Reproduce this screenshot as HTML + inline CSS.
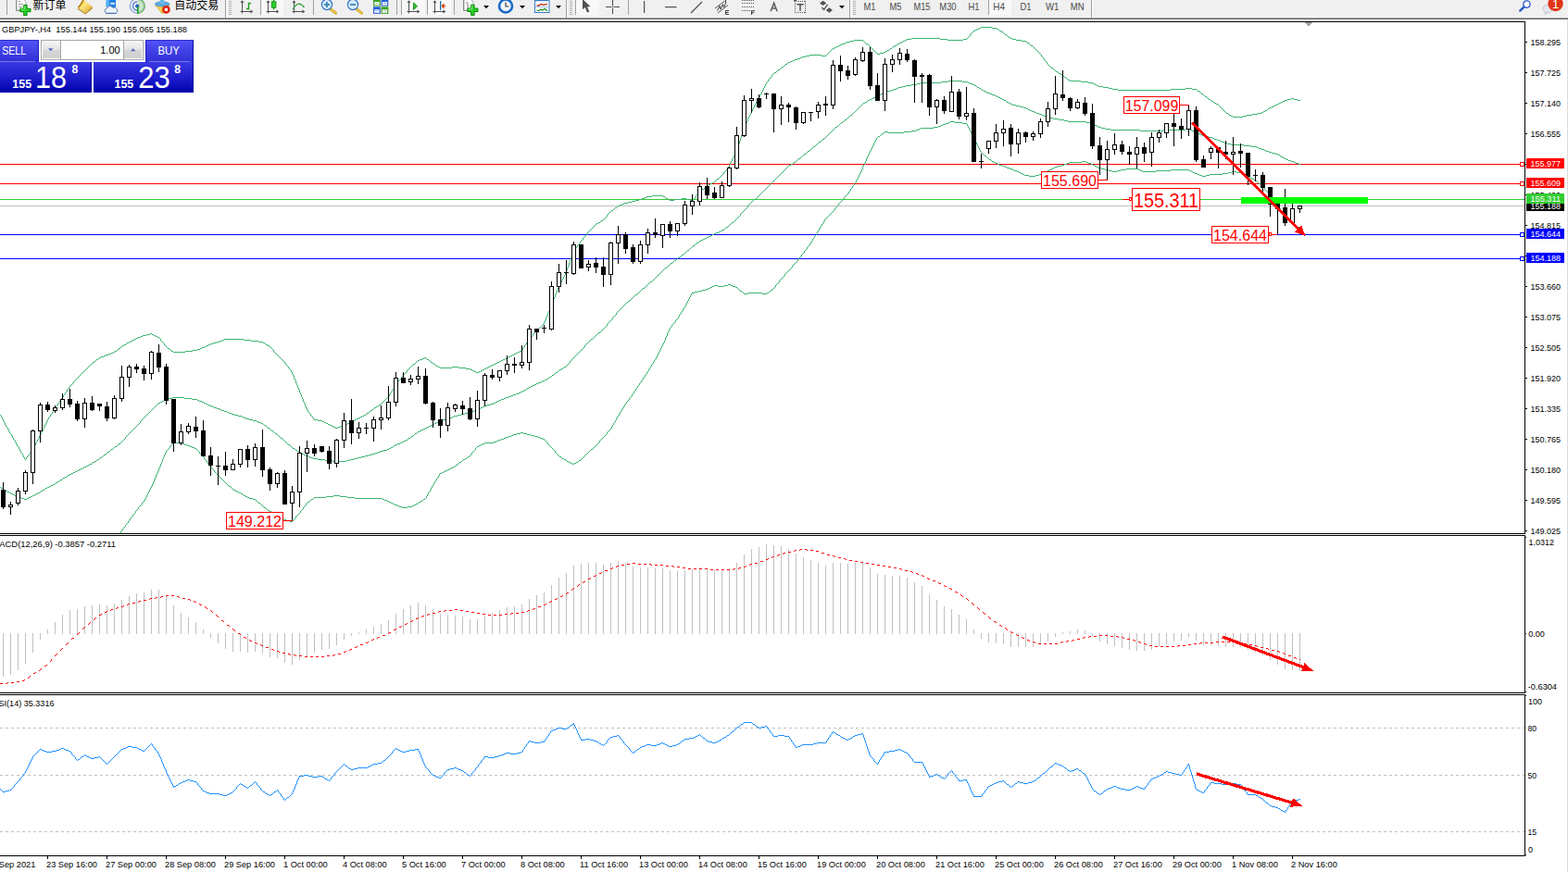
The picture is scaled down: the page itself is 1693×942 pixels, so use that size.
<!DOCTYPE html>
<html><head><meta charset="utf-8"><title>GBPJPY H4</title>
<style>
html,body{margin:0;padding:0;background:#fff;}
body{width:1693px;height:942px;overflow:hidden;position:relative;font-family:"Liberation Sans",sans-serif;}
svg{position:absolute;left:0;top:0;display:block}
svg text{font-family:"Liberation Sans",sans-serif;}

</style></head><body>
<svg width="1693" height="942" viewBox="0 0 1693 942" shape-rendering="crispEdges">
<defs>
<clipPath id="cm"><rect x="0" y="24" width="1646" height="552"/></clipPath>
<clipPath id="c2"><rect x="0" y="579" width="1646" height="169"/></clipPath>
<clipPath id="c3"><rect x="0" y="751" width="1646" height="173"/></clipPath>
</defs>
<rect x="0" y="0" width="1693" height="942" fill="#fff"/>
<g clip-path="url(#cm)"><rect x="0" y="177" width="1646" height="1" fill="#ff0000"/><rect x="0" y="198" width="1646" height="1" fill="#ff0000"/><rect x="0" y="215" width="1646" height="1" fill="#32cd32"/><rect x="0" y="222" width="1646" height="1" fill="#c0c0c0"/><rect x="0" y="253" width="1646" height="1" fill="#0000ff"/><rect x="0" y="279" width="1646" height="1" fill="#0000ff"/><path fill="#3cb371" d="M0 448h1v1h-1zM1 449h1v2h-1zM2 451h1v2h-1zM3 453h1v2h-1zM4 455h1v2h-1zM5 457h1v2h-1zM6 459h1v2h-1zM7 461h1v1h-1zM8 462h1v2h-1zM9 464h1v2h-1zM10 466h1v2h-1zM11 468h1v1h-1zM12 469h1v2h-1zM13 471h1v2h-1zM14 473h1v2h-1zM15 475h1v1h-1zM16 476h1v2h-1zM17 478h1v2h-1zM18 480h1v2h-1zM19 482h1v1h-1zM20 483h1v2h-1zM21 485h1v2h-1zM22 487h1v2h-1zM23 489h1v1h-1zM24 490h1v2h-1zM25 492h1v2h-1zM26 494h1v2h-1zM27 496h1v1h-1zM28 494h1v2h-1zM29 493h1v1h-1zM30 492h1v1h-1zM31 490h1v2h-1zM32 489h1v1h-1zM33 488h1v1h-1zM34 486h1v2h-1zM35 485h1v1h-1zM36 483h1v2h-1zM37 481h1v2h-1zM38 479h1v2h-1zM39 477h1v2h-1zM40 475h1v2h-1zM41 473h1v2h-1zM42 471h1v2h-1zM43 469h1v2h-1zM44 467h1v2h-1zM45 465h1v2h-1zM46 463h1v2h-1zM47 461h1v2h-1zM48 459h1v2h-1zM49 457h1v2h-1zM50 455h1v2h-1zM51 453h1v2h-1zM52 451h1v2h-1zM53 450h1v1h-1zM54 448h1v2h-1zM55 447h1v1h-1zM56 445h1v2h-1zM57 444h1v1h-1zM58 442h1v2h-1zM59 441h1v1h-1zM60 439h1v2h-1zM61 438h1v1h-1zM62 436h1v2h-1zM63 435h1v1h-1zM64 433h1v2h-1zM65 432h1v1h-1zM66 430h1v2h-1zM67 429h1v1h-1zM68 427h1v2h-1zM69 426h1v1h-1zM70 424h1v2h-1zM71 423h1v1h-1zM72 421h1v2h-1zM73 420h1v1h-1zM74 418h1v2h-1zM75 417h1v1h-1zM76 416h1v1h-1zM77 415h1v1h-1zM78 414h1v1h-1zM79 412h1v2h-1zM80 411h1v1h-1zM81 410h1v1h-1zM82 409h1v1h-1zM83 408h1v1h-1zM84 407h1v1h-1zM85 406h1v1h-1zM86 405h1v1h-1zM87 404h1v1h-1zM88 403h1v1h-1zM89 402h1v1h-1zM90 401h1v1h-1zM91 400h1v1h-1zM92 399h1v1h-1zM93 398h1v1h-1zM94 397h1v1h-1zM95 396h1v1h-1zM96 395h1v1h-1zM97 394h1v1h-1zM98 393h1v1h-1zM99 392h1v1h-1zM100 391h2v1h-2zM102 390h1v1h-1zM103 389h1v1h-1zM104 388h2v1h-2zM106 387h1v1h-1zM107 386h2v1h-2zM109 385h3v1h-3zM112 384h2v1h-2zM114 383h3v1h-3zM117 382h3v1h-3zM120 381h2v1h-2zM122 380h2v1h-2zM124 379h2v1h-2zM126 378h1v1h-1zM127 377h1v1h-1zM128 376h2v1h-2zM130 375h1v1h-1zM131 374h1v1h-1zM132 373h2v1h-2zM134 372h2v1h-2zM136 371h1v1h-1zM137 370h2v1h-2zM139 369h2v1h-2zM141 368h2v1h-2zM143 367h2v1h-2zM145 366h2v1h-2zM147 365h2v1h-2zM149 364h3v1h-3zM152 363h2v1h-2zM154 362h4v1h-4zM158 361h4v1h-4zM162 360h2v1h-2zM164 361h2v1h-2zM166 362h2v1h-2zM168 363h2v1h-2zM170 364h2v1h-2zM172 365h1v1h-1zM173 366h1v2h-1zM174 368h1v1h-1zM175 369h1v1h-1zM176 370h1v1h-1zM177 371h1v2h-1zM178 373h1v1h-1zM179 374h1v1h-1zM180 375h1v1h-1zM181 376h2v1h-2zM183 377h1v1h-1zM184 378h1v1h-1zM185 379h2v1h-2zM187 380h13v1h-13zM200 379h8v1h-8zM208 378h5v1h-5zM213 377h3v1h-3zM216 376h2v1h-2zM218 375h3v1h-3zM221 374h2v1h-2zM223 373h2v1h-2zM225 372h2v1h-2zM227 371h3v1h-3zM230 370h4v1h-4zM234 369h3v1h-3zM237 368h3v1h-3zM240 367h2v1h-2zM242 366h21v1h-21zM263 367h8v1h-8zM271 368h8v1h-8zM279 369h5v1h-5zM284 370h2v1h-2zM286 371h1v1h-1zM287 372h2v1h-2zM289 373h2v1h-2zM291 374h1v1h-1zM292 375h1v1h-1zM293 376h1v1h-1zM294 377h1v1h-1zM295 378h1v2h-1zM296 380h1v1h-1zM297 381h1v1h-1zM298 382h1v1h-1zM299 383h1v1h-1zM300 384h1v1h-1zM301 385h1v1h-1zM302 386h1v1h-1zM303 387h1v1h-1zM304 388h1v1h-1zM305 389h1v1h-1zM306 390h1v1h-1zM307 391h1v1h-1zM308 392h1v2h-1zM309 394h1v1h-1zM310 395h1v1h-1zM311 396h1v2h-1zM312 398h1v1h-1zM313 399h1v1h-1zM314 400h1v2h-1zM315 402h1v2h-1zM316 404h1v2h-1zM317 406h1v3h-1zM318 409h1v2h-1zM319 411h1v3h-1zM320 414h1v2h-1zM321 416h1v3h-1zM322 419h1v2h-1zM323 421h1v3h-1zM324 424h1v2h-1zM325 426h1v3h-1zM326 429h1v2h-1zM327 431h1v3h-1zM328 434h1v2h-1zM329 436h1v3h-1zM330 439h1v2h-1zM331 441h1v2h-1zM332 443h1v2h-1zM333 445h1v1h-1zM334 446h1v1h-1zM335 447h1v2h-1zM336 449h1v1h-1zM337 450h1v1h-1zM338 451h1v2h-1zM339 453h4v1h-4zM343 454h5v1h-5zM348 455h2v1h-2zM350 456h2v1h-2zM352 457h2v1h-2zM354 458h2v1h-2zM356 459h2v1h-2zM358 460h2v1h-2zM360 461h2v1h-2zM362 462h3v1h-3zM365 461h3v1h-3zM368 460h2v1h-2zM370 459h3v1h-3zM373 458h2v1h-2zM375 457h2v1h-2zM377 456h2v1h-2zM379 455h2v1h-2zM381 454h2v1h-2zM383 453h2v1h-2zM385 452h2v1h-2zM387 451h2v1h-2zM389 450h2v1h-2zM391 449h2v1h-2zM393 448h2v1h-2zM395 447h1v1h-1zM396 446h2v1h-2zM398 445h1v1h-1zM399 444h1v1h-1zM400 443h2v1h-2zM402 442h1v1h-1zM403 441h1v1h-1zM404 440h2v1h-2zM406 439h2v1h-2zM408 438h1v1h-1zM409 437h2v1h-2zM411 436h1v1h-1zM412 435h1v1h-1zM413 434h1v1h-1zM414 433h1v1h-1zM415 432h1v1h-1zM416 431h1v1h-1zM417 430h1v1h-1zM418 429h1v1h-1zM419 428h1v1h-1zM420 426h1v2h-1zM421 424h1v2h-1zM422 423h1v1h-1zM423 421h1v2h-1zM424 420h1v1h-1zM425 418h1v2h-1zM426 416h1v2h-1zM427 415h1v1h-1zM428 414h1v1h-1zM429 412h1v2h-1zM430 411h1v1h-1zM431 410h1v1h-1zM432 409h1v1h-1zM433 407h1v2h-1zM434 406h1v1h-1zM435 405h1v1h-1zM436 404h1v1h-1zM437 403h1v1h-1zM438 402h1v1h-1zM439 400h1v2h-1zM440 399h1v1h-1zM441 398h1v1h-1zM442 397h1v1h-1zM443 396h1v1h-1zM444 395h1v1h-1zM445 394h1v1h-1zM446 393h2v1h-2zM448 392h1v1h-1zM449 391h1v1h-1zM450 390h1v1h-1zM451 389h2v1h-2zM453 388h3v1h-3zM456 387h2v1h-2zM458 386h2v1h-2zM460 387h1v1h-1zM461 388h2v1h-2zM463 389h1v1h-1zM464 390h1v1h-1zM465 391h2v1h-2zM467 392h1v1h-1zM468 393h2v1h-2zM470 394h1v1h-1zM471 395h2v1h-2zM473 396h2v1h-2zM475 397h13v1h-13zM488 396h7v1h-7zM495 397h8v1h-8zM503 398h5v1h-5zM508 399h2v1h-2zM510 400h2v1h-2zM512 401h2v1h-2zM514 402h3v1h-3zM517 401h2v1h-2zM519 400h2v1h-2zM521 399h2v1h-2zM523 398h2v1h-2zM525 397h2v1h-2zM527 396h2v1h-2zM529 395h2v1h-2zM531 394h2v1h-2zM533 393h2v1h-2zM535 392h2v1h-2zM537 391h2v1h-2zM539 390h2v1h-2zM541 389h2v1h-2zM543 388h2v1h-2zM545 387h2v1h-2zM547 386h2v1h-2zM549 385h2v1h-2zM551 384h2v1h-2zM553 383h2v1h-2zM555 382h2v1h-2zM557 381h2v1h-2zM559 380h2v1h-2zM561 379h2v1h-2zM563 378h1v1h-1zM564 376h1v2h-1zM565 375h1v1h-1zM566 373h1v2h-1zM567 372h1v1h-1zM568 370h1v2h-1zM569 369h1v1h-1zM570 367h1v2h-1zM571 366h1v1h-1zM572 365h1v1h-1zM573 364h1v1h-1zM574 363h1v1h-1zM575 361h1v2h-1zM576 360h1v1h-1zM577 359h1v1h-1zM578 358h1v1h-1zM579 357h1v1h-1zM580 356h1v1h-1zM581 355h1v1h-1zM582 354h1v1h-1zM583 353h1v1h-1zM584 352h1v1h-1zM585 351h1v1h-1zM586 350h1v1h-1zM587 348h1v2h-1zM588 346h1v2h-1zM589 343h1v3h-1zM590 341h1v2h-1zM591 338h1v3h-1zM592 336h1v2h-1zM593 333h1v3h-1zM594 331h1v2h-1zM595 328h1v3h-1zM596 326h1v2h-1zM597 323h1v3h-1zM598 321h1v2h-1zM599 318h1v3h-1zM600 316h1v2h-1zM601 313h1v3h-1zM602 311h1v2h-1zM603 309h1v2h-1zM604 307h1v2h-1zM605 305h1v2h-1zM606 303h1v2h-1zM607 301h1v2h-1zM608 299h1v2h-1zM609 297h1v2h-1zM610 295h1v2h-1zM611 292h1v3h-1zM612 289h1v3h-1zM613 287h1v2h-1zM614 284h1v3h-1zM615 281h1v3h-1zM616 278h1v3h-1zM617 276h1v2h-1zM618 273h1v3h-1zM619 271h1v2h-1zM620 269h1v2h-1zM621 268h1v1h-1zM622 267h1v1h-1zM623 265h1v2h-1zM624 264h1v1h-1zM625 263h1v1h-1zM626 261h1v2h-1zM627 260h1v1h-1zM628 259h1v1h-1zM629 257h1v2h-1zM630 256h1v1h-1zM631 255h1v1h-1zM632 254h1v1h-1zM633 252h1v2h-1zM634 251h1v1h-1zM635 250h1v1h-1zM636 249h1v1h-1zM637 248h1v1h-1zM638 247h1v1h-1zM639 246h1v1h-1zM640 245h1v1h-1zM641 244h1v1h-1zM642 243h1v1h-1zM643 242h1v1h-1zM644 241h2v1h-2zM646 240h2v1h-2zM648 239h1v1h-1zM649 238h2v1h-2zM651 237h1v1h-1zM652 236h1v1h-1zM653 235h1v1h-1zM654 234h1v1h-1zM655 232h1v2h-1zM656 231h1v1h-1zM657 230h1v1h-1zM658 229h1v1h-1zM659 228h1v1h-1zM660 227h2v1h-2zM662 226h1v1h-1zM663 225h1v1h-1zM664 224h2v1h-2zM666 223h1v1h-1zM667 222h2v1h-2zM669 221h3v1h-3zM672 220h2v1h-2zM674 219h4v1h-4zM678 218h4v1h-4zM682 217h4v1h-4zM686 216h4v1h-4zM690 215h3v1h-3zM693 214h3v1h-3zM696 213h2v1h-2zM698 212h6v1h-6zM704 211h12v1h-12zM716 212h2v1h-2zM718 213h1v1h-1zM719 214h2v1h-2zM721 215h2v1h-2zM723 216h5v1h-5zM728 215h8v1h-8zM736 214h5v1h-5zM741 215h4v1h-4zM745 216h3v1h-3zM748 215h1v1h-1zM749 214h1v1h-1zM750 213h1v1h-1zM751 211h1v2h-1zM752 210h1v1h-1zM753 209h1v1h-1zM754 208h1v1h-1zM755 207h1v1h-1zM756 206h1v1h-1zM757 205h1v1h-1zM758 204h2v1h-2zM760 203h1v1h-1zM761 202h1v1h-1zM762 201h1v1h-1zM763 200h2v1h-2zM765 199h2v1h-2zM767 198h2v1h-2zM769 197h2v1h-2zM771 196h1v1h-1zM772 195h1v1h-1zM773 194h1v1h-1zM774 193h2v1h-2zM776 192h1v1h-1zM777 191h1v1h-1zM778 190h1v1h-1zM779 189h1v1h-1zM780 188h1v1h-1zM781 186h1v2h-1zM782 185h1v1h-1zM783 184h1v1h-1zM784 183h1v1h-1zM785 181h1v2h-1zM786 180h1v1h-1zM787 178h1v2h-1zM788 176h1v2h-1zM789 174h1v2h-1zM790 172h1v2h-1zM791 170h1v2h-1zM792 168h1v2h-1zM793 166h1v2h-1zM794 164h1v2h-1zM795 161h1v3h-1zM796 158h1v3h-1zM797 155h1v3h-1zM798 152h1v3h-1zM799 149h1v3h-1zM800 146h1v3h-1zM801 143h1v3h-1zM802 140h1v3h-1zM803 137h1v3h-1zM804 135h1v2h-1zM805 133h1v2h-1zM806 131h1v2h-1zM807 128h1v3h-1zM808 126h1v2h-1zM809 124h1v2h-1zM810 122h1v2h-1zM811 120h1v2h-1zM812 118h1v2h-1zM813 116h1v2h-1zM814 114h1v2h-1zM815 112h1v2h-1zM816 110h1v2h-1zM817 108h1v2h-1zM818 106h1v2h-1zM819 105h1v1h-1zM820 103h1v2h-1zM821 101h1v2h-1zM822 99h1v2h-1zM823 97h1v2h-1zM824 95h1v2h-1zM825 93h1v2h-1zM826 91h1v2h-1zM827 89h1v2h-1zM828 88h1v1h-1zM829 86h1v2h-1zM830 85h1v1h-1zM831 84h1v1h-1zM832 83h1v1h-1zM833 81h1v2h-1zM834 80h1v1h-1zM835 79h1v1h-1zM836 78h2v1h-2zM838 77h1v1h-1zM839 76h1v1h-1zM840 75h2v1h-2zM842 74h1v1h-1zM843 73h1v1h-1zM844 72h2v1h-2zM846 71h1v1h-1zM847 70h1v1h-1zM848 69h2v1h-2zM850 68h1v1h-1zM851 67h2v1h-2zM853 66h3v1h-3zM856 65h2v1h-2zM858 64h3v1h-3zM861 63h3v1h-3zM864 62h2v1h-2zM866 61h4v1h-4zM870 60h4v1h-4zM874 59h13v1h-13zM887 60h5v1h-5zM892 59h1v1h-1zM893 58h1v1h-1zM894 57h1v1h-1zM895 56h1v1h-1zM896 55h1v1h-1zM897 54h1v1h-1zM898 53h1v1h-1zM899 52h2v1h-2zM901 51h2v1h-2zM903 50h2v1h-2zM905 49h2v1h-2zM907 48h2v1h-2zM909 47h3v1h-3zM912 46h2v1h-2zM914 45h4v1h-4zM918 44h4v1h-4zM922 43h10v1h-10zM932 44h1v1h-1zM933 45h1v1h-1zM934 46h1v1h-1zM935 47h2v1h-2zM937 48h1v1h-1zM938 49h1v1h-1zM939 50h1v1h-1zM940 51h1v1h-1zM941 52h1v1h-1zM942 53h1v1h-1zM943 54h1v1h-1zM944 55h1v1h-1zM945 56h1v1h-1zM946 57h1v1h-1zM947 58h3v1h-3zM950 57h4v1h-4zM954 56h2v1h-2zM956 55h2v1h-2zM958 54h2v1h-2zM960 53h1v1h-1zM961 52h2v1h-2zM963 51h1v1h-1zM964 50h2v1h-2zM966 49h2v1h-2zM968 48h1v1h-1zM969 47h2v1h-2zM971 46h2v1h-2zM973 45h2v1h-2zM975 44h2v1h-2zM977 43h2v1h-2zM979 42h5v1h-5zM984 41h31v1h-31zM1015 42h8v1h-8zM1023 43h17v1h-17zM1040 42h4v1h-4zM1044 41h1v1h-1zM1045 40h1v1h-1zM1046 39h1v1h-1zM1047 37h1v2h-1zM1048 36h1v1h-1zM1049 35h1v1h-1zM1050 34h1v1h-1zM1051 33h2v1h-2zM1053 32h2v1h-2zM1055 31h2v1h-2zM1057 30h2v1h-2zM1059 29h12v1h-12zM1071 30h5v1h-5zM1076 31h2v1h-2zM1078 32h1v1h-1zM1079 33h2v1h-2zM1081 34h2v1h-2zM1083 35h1v1h-1zM1084 36h1v1h-1zM1085 37h2v1h-2zM1087 38h1v1h-1zM1088 39h1v1h-1zM1089 40h2v1h-2zM1091 41h2v1h-2zM1093 42h4v1h-4zM1097 43h6v1h-6zM1103 44h5v1h-5zM1108 45h1v1h-1zM1109 46h2v1h-2zM1111 47h1v1h-1zM1112 48h1v1h-1zM1113 49h2v1h-2zM1115 50h1v1h-1zM1116 51h1v1h-1zM1117 52h1v1h-1zM1118 53h1v1h-1zM1119 54h1v1h-1zM1120 55h1v1h-1zM1121 56h1v1h-1zM1122 57h1v1h-1zM1123 58h1v1h-1zM1124 59h1v2h-1zM1125 61h1v1h-1zM1126 62h1v1h-1zM1127 63h1v2h-1zM1128 65h1v1h-1zM1129 66h1v1h-1zM1130 67h1v2h-1zM1131 69h1v1h-1zM1132 70h1v1h-1zM1133 71h1v1h-1zM1134 72h1v1h-1zM1135 73h2v1h-2zM1137 74h1v1h-1zM1138 75h1v1h-1zM1139 76h1v1h-1zM1140 77h2v1h-2zM1142 78h1v1h-1zM1143 79h2v1h-2zM1145 80h2v1h-2zM1147 81h1v1h-1zM1148 82h1v1h-1zM1149 83h2v1h-2zM1151 84h1v1h-1zM1152 85h1v1h-1zM1153 86h2v1h-2zM1155 87h12v1h-12zM1167 88h8v1h-8zM1175 89h5v1h-5zM1180 90h2v1h-2zM1182 91h2v1h-2zM1184 92h2v1h-2zM1186 93h5v1h-5zM1191 94h6v1h-6zM1197 95h4v1h-4zM1201 96h6v1h-6zM1207 97h57v1h-57zM1264 96h16v1h-16zM1280 95h7v1h-7zM1287 96h5v1h-5zM1292 97h1v1h-1zM1293 98h2v1h-2zM1295 99h1v1h-1zM1296 100h1v1h-1zM1297 101h2v1h-2zM1299 102h1v1h-1zM1300 103h1v1h-1zM1301 104h2v1h-2zM1303 105h1v1h-1zM1304 106h1v1h-1zM1305 107h2v1h-2zM1307 108h1v1h-1zM1308 109h2v1h-2zM1310 110h1v1h-1zM1311 111h2v1h-2zM1313 112h2v1h-2zM1315 113h1v1h-1zM1316 114h1v1h-1zM1317 115h1v1h-1zM1318 116h1v1h-1zM1319 117h1v1h-1zM1320 118h1v1h-1zM1321 119h1v1h-1zM1322 120h1v1h-1zM1323 121h1v1h-1zM1324 122h2v1h-2zM1326 123h1v1h-1zM1327 124h2v1h-2zM1329 125h2v1h-2zM1331 126h11v1h-11zM1342 125h4v1h-4zM1346 124h6v1h-6zM1352 123h6v1h-6zM1358 122h4v1h-4zM1362 121h2v1h-2zM1364 120h2v1h-2zM1366 119h2v1h-2zM1368 118h1v1h-1zM1369 117h2v1h-2zM1371 116h2v1h-2zM1373 115h2v1h-2zM1375 114h2v1h-2zM1377 113h2v1h-2zM1379 112h2v1h-2zM1381 111h2v1h-2zM1383 110h2v1h-2zM1385 109h2v1h-2zM1387 108h3v1h-3zM1390 107h4v1h-4zM1394 106h3v1h-3zM1397 107h4v1h-4zM1401 108h3v1h-3z"/><path fill="#3cb371" d="M0 526h1v1h-1zM1 527h2v1h-2zM3 528h1v1h-1zM4 529h2v1h-2zM6 530h2v1h-2zM8 531h2v1h-2zM10 532h2v1h-2zM12 533h2v1h-2zM14 534h2v1h-2zM16 535h2v1h-2zM18 536h3v1h-3zM21 537h2v1h-2zM23 538h3v1h-3zM26 539h3v1h-3zM29 538h2v1h-2zM31 537h2v1h-2zM33 536h2v1h-2zM35 535h2v1h-2zM37 534h2v1h-2zM39 533h2v1h-2zM41 532h2v1h-2zM43 531h1v1h-1zM44 530h2v1h-2zM46 529h2v1h-2zM48 528h1v1h-1zM49 527h2v1h-2zM51 526h2v1h-2zM53 525h2v1h-2zM55 524h2v1h-2zM57 523h2v1h-2zM59 522h1v1h-1zM60 521h2v1h-2zM62 520h2v1h-2zM64 519h1v1h-1zM65 518h2v1h-2zM67 517h1v1h-1zM68 516h2v1h-2zM70 515h2v1h-2zM72 514h1v1h-1zM73 513h2v1h-2zM75 512h2v1h-2zM77 511h2v1h-2zM79 510h2v1h-2zM81 509h2v1h-2zM83 508h2v1h-2zM85 507h2v1h-2zM87 506h2v1h-2zM89 505h2v1h-2zM91 504h2v1h-2zM93 503h2v1h-2zM95 502h2v1h-2zM97 501h2v1h-2zM99 500h1v1h-1zM100 499h2v1h-2zM102 498h2v1h-2zM104 497h1v1h-1zM105 496h2v1h-2zM107 495h1v1h-1zM108 494h2v1h-2zM110 493h1v1h-1zM111 492h1v1h-1zM112 491h2v1h-2zM114 490h1v1h-1zM115 489h1v1h-1zM116 488h2v1h-2zM118 487h1v1h-1zM119 486h1v1h-1zM120 485h2v1h-2zM122 484h1v1h-1zM123 483h1v1h-1zM124 482h2v1h-2zM126 481h1v1h-1zM127 480h1v1h-1zM128 479h2v1h-2zM130 478h1v1h-1zM131 477h1v1h-1zM132 476h1v1h-1zM133 475h1v1h-1zM134 474h1v1h-1zM135 472h1v2h-1zM136 471h1v1h-1zM137 470h1v1h-1zM138 469h1v1h-1zM139 468h1v1h-1zM140 467h1v1h-1zM141 466h1v1h-1zM142 465h1v1h-1zM143 464h1v1h-1zM144 463h1v1h-1zM145 462h1v1h-1zM146 461h1v1h-1zM147 460h1v1h-1zM148 459h1v1h-1zM149 458h1v1h-1zM150 457h1v1h-1zM151 455h1v2h-1zM152 454h1v1h-1zM153 453h1v1h-1zM154 452h1v1h-1zM155 451h1v1h-1zM156 450h1v1h-1zM157 449h1v1h-1zM158 448h1v1h-1zM159 447h1v1h-1zM160 446h1v1h-1zM161 445h1v1h-1zM162 444h1v1h-1zM163 443h1v1h-1zM164 442h1v1h-1zM165 441h1v1h-1zM166 440h1v1h-1zM167 439h1v1h-1zM168 438h1v1h-1zM169 437h1v1h-1zM170 436h1v1h-1zM171 435h2v1h-2zM173 434h2v1h-2zM175 433h2v1h-2zM177 432h2v1h-2zM179 431h3v1h-3zM182 430h4v1h-4zM186 429h13v1h-13zM199 430h8v1h-8zM207 431h6v1h-6zM213 432h2v1h-2zM215 433h3v1h-3zM218 434h2v1h-2zM220 435h2v1h-2zM222 436h2v1h-2zM224 437h2v1h-2zM226 438h3v1h-3zM229 439h2v1h-2zM231 440h3v1h-3zM234 441h3v1h-3zM237 442h2v1h-2zM239 443h3v1h-3zM242 444h3v1h-3zM245 445h2v1h-2zM247 446h3v1h-3zM250 447h3v1h-3zM253 448h4v1h-4zM257 449h4v1h-4zM261 450h2v1h-2zM263 451h3v1h-3zM266 452h3v1h-3zM269 453h4v1h-4zM273 454h4v1h-4zM277 455h2v1h-2zM279 456h3v1h-3zM282 457h2v1h-2zM284 458h1v1h-1zM285 459h2v1h-2zM287 460h1v1h-1zM288 461h1v1h-1zM289 462h2v1h-2zM291 463h1v1h-1zM292 464h1v1h-1zM293 465h2v1h-2zM295 466h1v1h-1zM296 467h1v1h-1zM297 468h2v1h-2zM299 469h1v1h-1zM300 470h1v1h-1zM301 471h1v1h-1zM302 472h1v1h-1zM303 473h2v1h-2zM305 474h1v1h-1zM306 475h1v1h-1zM307 476h1v1h-1zM308 477h1v1h-1zM309 478h1v1h-1zM310 479h1v1h-1zM311 480h2v1h-2zM313 481h1v1h-1zM314 482h1v1h-1zM315 483h1v1h-1zM316 484h2v1h-2zM318 485h1v1h-1zM319 486h2v1h-2zM321 487h2v1h-2zM323 488h1v1h-1zM324 489h2v1h-2zM326 490h2v1h-2zM328 491h2v1h-2zM330 492h3v1h-3zM333 493h2v1h-2zM335 494h3v1h-3zM338 495h5v1h-5zM343 496h8v1h-8zM351 497h8v1h-8zM359 498h15v1h-15zM374 497h4v1h-4zM378 496h4v1h-4zM382 495h4v1h-4zM386 494h4v1h-4zM390 493h4v1h-4zM394 492h4v1h-4zM398 491h4v1h-4zM402 490h3v1h-3zM405 489h3v1h-3zM408 488h2v1h-2zM410 487h4v1h-4zM414 486h4v1h-4zM418 485h2v1h-2zM420 484h2v1h-2zM422 483h2v1h-2zM424 482h1v1h-1zM425 481h2v1h-2zM427 480h2v1h-2zM429 479h3v1h-3zM432 478h2v1h-2zM434 477h2v1h-2zM436 476h2v1h-2zM438 475h2v1h-2zM440 474h1v1h-1zM441 473h2v1h-2zM443 472h1v1h-1zM444 471h2v1h-2zM446 470h1v1h-1zM447 469h1v1h-1zM448 468h2v1h-2zM450 467h1v1h-1zM451 466h2v1h-2zM453 465h2v1h-2zM455 464h2v1h-2zM457 463h2v1h-2zM459 462h2v1h-2zM461 461h2v1h-2zM463 460h2v1h-2zM465 459h2v1h-2zM467 458h2v1h-2zM469 457h2v1h-2zM471 456h2v1h-2zM473 455h2v1h-2zM475 454h3v1h-3zM478 453h4v1h-4zM482 452h3v1h-3zM485 451h3v1h-3zM488 450h2v1h-2zM490 449h4v1h-4zM494 448h4v1h-4zM498 447h4v1h-4zM502 446h4v1h-4zM506 445h3v1h-3zM509 444h3v1h-3zM512 443h2v1h-2zM514 442h3v1h-3zM517 441h2v1h-2zM519 440h2v1h-2zM521 439h2v1h-2zM523 438h3v1h-3zM526 437h4v1h-4zM530 436h3v1h-3zM533 435h2v1h-2zM535 434h2v1h-2zM537 433h2v1h-2zM539 432h2v1h-2zM541 431h3v1h-3zM544 430h2v1h-2zM546 429h3v1h-3zM549 428h3v1h-3zM552 427h2v1h-2zM554 426h3v1h-3zM557 425h3v1h-3zM560 424h2v1h-2zM562 423h2v1h-2zM564 422h2v1h-2zM566 421h2v1h-2zM568 420h1v1h-1zM569 419h2v1h-2zM571 418h2v1h-2zM573 417h2v1h-2zM575 416h2v1h-2zM577 415h2v1h-2zM579 414h2v1h-2zM581 413h3v1h-3zM584 412h2v1h-2zM586 411h2v1h-2zM588 410h2v1h-2zM590 409h2v1h-2zM592 408h1v1h-1zM593 407h2v1h-2zM595 406h1v1h-1zM596 405h2v1h-2zM598 404h1v1h-1zM599 403h1v1h-1zM600 402h2v1h-2zM602 401h1v1h-1zM603 400h1v1h-1zM604 399h2v1h-2zM606 398h2v1h-2zM608 397h1v1h-1zM609 396h2v1h-2zM611 395h1v1h-1zM612 394h1v1h-1zM613 393h1v1h-1zM614 392h1v1h-1zM615 390h1v2h-1zM616 389h1v1h-1zM617 388h1v1h-1zM618 387h1v1h-1zM619 386h1v1h-1zM620 385h1v1h-1zM621 384h1v1h-1zM622 383h1v1h-1zM623 382h1v1h-1zM624 381h1v1h-1zM625 380h1v1h-1zM626 379h1v1h-1zM627 378h1v1h-1zM628 377h1v1h-1zM629 376h1v1h-1zM630 375h1v1h-1zM631 373h1v2h-1zM632 372h1v1h-1zM633 371h1v1h-1zM634 370h1v1h-1zM635 369h1v1h-1zM636 368h1v1h-1zM637 367h1v1h-1zM638 366h2v1h-2zM640 365h1v1h-1zM641 364h1v1h-1zM642 363h1v1h-1zM643 362h1v1h-1zM644 361h1v1h-1zM645 360h1v1h-1zM646 359h2v1h-2zM648 358h1v1h-1zM649 357h1v1h-1zM650 356h1v1h-1zM651 355h1v1h-1zM652 354h1v1h-1zM653 353h1v1h-1zM654 352h1v1h-1zM655 350h1v2h-1zM656 349h1v1h-1zM657 348h1v1h-1zM658 347h1v1h-1zM659 346h1v1h-1zM660 345h1v1h-1zM661 343h1v2h-1zM662 342h1v1h-1zM663 341h1v1h-1zM664 340h1v1h-1zM665 338h1v2h-1zM666 337h1v1h-1zM667 336h1v1h-1zM668 335h1v1h-1zM669 334h1v1h-1zM670 333h1v1h-1zM671 332h1v1h-1zM672 331h1v1h-1zM673 330h1v1h-1zM674 329h1v1h-1zM675 328h1v1h-1zM676 327h1v1h-1zM677 326h1v1h-1zM678 325h2v1h-2zM680 324h1v1h-1zM681 323h1v1h-1zM682 322h1v1h-1zM683 321h1v1h-1zM684 320h1v1h-1zM685 319h1v1h-1zM686 318h2v1h-2zM688 317h1v1h-1zM689 316h1v1h-1zM690 315h1v1h-1zM691 314h1v1h-1zM692 313h1v1h-1zM693 312h1v1h-1zM694 311h2v1h-2zM696 310h1v1h-1zM697 309h1v1h-1zM698 308h1v1h-1zM699 307h1v1h-1zM700 306h1v1h-1zM701 305h1v1h-1zM702 304h2v1h-2zM704 303h1v1h-1zM705 302h1v1h-1zM706 301h1v1h-1zM707 300h1v1h-1zM708 299h1v1h-1zM709 298h1v1h-1zM710 297h1v1h-1zM711 296h1v1h-1zM712 295h1v1h-1zM713 294h1v1h-1zM714 293h1v1h-1zM715 292h1v1h-1zM716 291h1v1h-1zM717 290h1v1h-1zM718 289h2v1h-2zM720 288h1v1h-1zM721 287h1v1h-1zM722 286h1v1h-1zM723 285h1v1h-1zM724 284h2v1h-2zM726 283h1v1h-1zM727 282h1v1h-1zM728 281h2v1h-2zM730 280h1v1h-1zM731 279h1v1h-1zM732 278h2v1h-2zM734 277h1v1h-1zM735 276h1v1h-1zM736 275h2v1h-2zM738 274h1v1h-1zM739 273h1v1h-1zM740 272h1v1h-1zM741 271h1v1h-1zM742 270h2v1h-2zM744 269h1v1h-1zM745 268h1v1h-1zM746 267h1v1h-1zM747 266h1v1h-1zM748 265h2v1h-2zM750 264h1v1h-1zM751 263h1v1h-1zM752 262h2v1h-2zM754 261h1v1h-1zM755 260h2v1h-2zM757 259h2v1h-2zM759 258h2v1h-2zM761 257h2v1h-2zM763 256h2v1h-2zM765 255h2v1h-2zM767 254h2v1h-2zM769 253h2v1h-2zM771 252h2v1h-2zM773 251h3v1h-3zM776 250h2v1h-2zM778 249h2v1h-2zM780 248h2v1h-2zM782 247h1v1h-1zM783 246h1v1h-1zM784 245h2v1h-2zM786 244h1v1h-1zM787 243h1v1h-1zM788 242h1v1h-1zM789 241h1v1h-1zM790 240h2v1h-2zM792 239h1v1h-1zM793 238h1v1h-1zM794 237h1v1h-1zM795 236h1v1h-1zM796 235h1v1h-1zM797 234h1v1h-1zM798 233h1v1h-1zM799 231h1v2h-1zM800 230h1v1h-1zM801 229h1v1h-1zM802 228h1v1h-1zM803 227h1v1h-1zM804 226h1v1h-1zM805 225h1v1h-1zM806 224h1v1h-1zM807 222h1v2h-1zM808 221h1v1h-1zM809 220h1v1h-1zM810 219h1v1h-1zM811 218h1v1h-1zM812 217h1v1h-1zM813 216h1v1h-1zM814 215h2v1h-2zM816 214h1v1h-1zM817 213h1v1h-1zM818 212h1v1h-1zM819 211h1v1h-1zM820 210h1v1h-1zM821 209h1v1h-1zM822 208h1v1h-1zM823 207h1v1h-1zM824 206h1v1h-1zM825 205h1v1h-1zM826 204h1v1h-1zM827 203h1v1h-1zM828 202h1v1h-1zM829 201h1v1h-1zM830 200h1v1h-1zM831 199h1v1h-1zM832 198h1v1h-1zM833 197h1v1h-1zM834 196h1v1h-1zM835 195h1v1h-1zM836 194h1v1h-1zM837 193h1v1h-1zM838 192h1v1h-1zM839 191h1v1h-1zM840 190h1v1h-1zM841 189h1v1h-1zM842 188h1v1h-1zM843 187h1v1h-1zM844 186h1v1h-1zM845 185h1v1h-1zM846 184h1v1h-1zM847 183h1v1h-1zM848 182h1v1h-1zM849 181h1v1h-1zM850 180h1v1h-1zM851 179h1v1h-1zM852 178h2v1h-2zM854 177h2v1h-2zM856 176h1v1h-1zM857 175h2v1h-2zM859 174h1v1h-1zM860 173h1v1h-1zM861 172h1v1h-1zM862 171h2v1h-2zM864 170h1v1h-1zM865 169h1v1h-1zM866 168h1v1h-1zM867 167h1v1h-1zM868 166h2v1h-2zM870 165h1v1h-1zM871 164h1v1h-1zM872 163h2v1h-2zM874 162h1v1h-1zM875 161h1v1h-1zM876 160h1v1h-1zM877 159h1v1h-1zM878 158h2v1h-2zM880 157h1v1h-1zM881 156h1v1h-1zM882 155h1v1h-1zM883 154h1v1h-1zM884 153h2v1h-2zM886 152h1v1h-1zM887 151h1v1h-1zM888 150h2v1h-2zM890 149h1v1h-1zM891 148h1v1h-1zM892 147h1v1h-1zM893 146h1v1h-1zM894 145h1v1h-1zM895 144h1v1h-1zM896 143h1v1h-1zM897 142h1v1h-1zM898 141h1v1h-1zM899 140h1v1h-1zM900 139h1v1h-1zM901 138h1v1h-1zM902 137h2v1h-2zM904 136h1v1h-1zM905 135h1v1h-1zM906 134h1v1h-1zM907 133h1v1h-1zM908 132h2v1h-2zM910 131h1v1h-1zM911 130h1v1h-1zM912 129h2v1h-2zM914 128h1v1h-1zM915 127h1v1h-1zM916 126h1v1h-1zM917 125h1v1h-1zM918 124h2v1h-2zM920 123h1v1h-1zM921 122h1v1h-1zM922 121h1v1h-1zM923 120h1v1h-1zM924 119h1v1h-1zM925 118h1v1h-1zM926 117h1v1h-1zM927 116h1v1h-1zM928 115h1v1h-1zM929 114h1v1h-1zM930 113h1v1h-1zM931 112h1v1h-1zM932 111h2v1h-2zM934 110h2v1h-2zM936 109h1v1h-1zM937 108h2v1h-2zM939 107h2v1h-2zM941 106h2v1h-2zM943 105h2v1h-2zM945 104h2v1h-2zM947 103h2v1h-2zM949 102h2v1h-2zM951 101h2v1h-2zM953 100h2v1h-2zM955 99h3v1h-3zM958 98h4v1h-4zM962 97h3v1h-3zM965 96h3v1h-3zM968 95h2v1h-2zM970 94h4v1h-4zM974 93h4v1h-4zM978 92h6v1h-6zM984 91h6v1h-6zM990 90h4v1h-4zM994 89h22v1h-22zM1016 88h8v1h-8zM1024 87h15v1h-15zM1039 88h6v1h-6zM1045 89h2v1h-2zM1047 90h3v1h-3zM1050 91h2v1h-2zM1052 92h2v1h-2zM1054 93h1v1h-1zM1055 94h2v1h-2zM1057 95h2v1h-2zM1059 96h1v1h-1zM1060 97h2v1h-2zM1062 98h2v1h-2zM1064 99h2v1h-2zM1066 100h3v1h-3zM1069 101h2v1h-2zM1071 102h3v1h-3zM1074 103h2v1h-2zM1076 104h2v1h-2zM1078 105h2v1h-2zM1080 106h2v1h-2zM1082 107h2v1h-2zM1084 108h2v1h-2zM1086 109h1v1h-1zM1087 110h2v1h-2zM1089 111h2v1h-2zM1091 112h2v1h-2zM1093 113h4v1h-4zM1097 114h4v1h-4zM1101 115h4v1h-4zM1105 116h3v1h-3zM1108 117h2v1h-2zM1110 118h2v1h-2zM1112 119h2v1h-2zM1114 120h3v1h-3zM1117 121h2v1h-2zM1119 122h3v1h-3zM1122 123h3v1h-3zM1125 124h2v1h-2zM1127 125h3v1h-3zM1130 126h3v1h-3zM1133 127h4v1h-4zM1137 128h6v1h-6zM1143 129h6v1h-6zM1149 130h4v1h-4zM1153 131h20v1h-20zM1173 132h4v1h-4zM1177 133h3v1h-3zM1180 134h2v1h-2zM1182 135h2v1h-2zM1184 136h2v1h-2zM1186 137h3v1h-3zM1189 138h4v1h-4zM1193 139h6v1h-6zM1199 140h32v1h-32zM1231 141h25v1h-25zM1256 140h24v1h-24zM1280 139h5v1h-5zM1285 140h2v1h-2zM1287 141h3v1h-3zM1290 142h2v1h-2zM1292 143h2v1h-2zM1294 144h2v1h-2zM1296 145h2v1h-2zM1298 146h3v1h-3zM1301 147h4v1h-4zM1305 148h4v1h-4zM1309 149h2v1h-2zM1311 150h3v1h-3zM1314 151h3v1h-3zM1317 152h2v1h-2zM1319 153h3v1h-3zM1322 154h3v1h-3zM1325 155h4v1h-4zM1329 156h14v1h-14zM1343 157h8v1h-8zM1351 158h6v1h-6zM1357 159h2v1h-2zM1359 160h3v1h-3zM1362 161h3v1h-3zM1365 162h2v1h-2zM1367 163h3v1h-3zM1370 164h3v1h-3zM1373 165h4v1h-4zM1377 166h3v1h-3zM1380 167h2v1h-2zM1382 168h1v1h-1zM1383 169h2v1h-2zM1385 170h2v1h-2zM1387 171h2v1h-2zM1389 172h2v1h-2zM1391 173h3v1h-3zM1394 174h3v1h-3zM1397 175h2v1h-2zM1399 176h3v1h-3zM1402 177h2v1h-2z"/><path fill="#3cb371" d="M126 580h1v1h-1zM127 578h1v2h-1zM128 577h1v1h-1zM129 576h1v1h-1zM130 574h1v2h-1zM131 573h1v1h-1zM132 571h1v2h-1zM133 570h1v1h-1zM134 569h1v1h-1zM135 567h1v2h-1zM136 566h1v1h-1zM137 565h1v1h-1zM138 563h1v2h-1zM139 562h1v1h-1zM140 560h1v2h-1zM141 559h1v1h-1zM142 558h1v1h-1zM143 556h1v2h-1zM144 555h1v1h-1zM145 554h1v1h-1zM146 552h1v2h-1zM147 551h1v1h-1zM148 550h1v1h-1zM149 548h1v2h-1zM150 547h1v1h-1zM151 546h1v1h-1zM152 545h1v1h-1zM153 543h1v2h-1zM154 542h1v1h-1zM155 541h1v1h-1zM156 539h1v2h-1zM157 537h1v2h-1zM158 535h1v2h-1zM159 533h1v2h-1zM160 531h1v2h-1zM161 529h1v2h-1zM162 527h1v2h-1zM163 525h1v2h-1zM164 523h1v2h-1zM165 521h1v2h-1zM166 518h1v3h-1zM167 516h1v2h-1zM168 513h1v3h-1zM169 511h1v2h-1zM170 509h1v2h-1zM171 506h1v3h-1zM172 504h1v2h-1zM173 501h1v3h-1zM174 499h1v2h-1zM175 496h1v3h-1zM176 494h1v2h-1zM177 491h1v3h-1zM178 489h1v2h-1zM179 487h1v2h-1zM180 486h1v1h-1zM181 485h1v1h-1zM182 484h1v1h-1zM183 482h1v2h-1zM184 481h1v1h-1zM185 480h1v1h-1zM186 479h1v1h-1zM187 478h10v1h-10zM197 479h2v1h-2zM199 480h3v1h-3zM202 481h3v1h-3zM205 482h2v1h-2zM207 483h3v1h-3zM210 484h2v1h-2zM212 485h1v1h-1zM213 486h1v1h-1zM214 487h1v1h-1zM215 488h1v2h-1zM216 490h1v1h-1zM217 491h1v1h-1zM218 492h1v1h-1zM219 493h1v1h-1zM220 494h1v2h-1zM221 496h1v1h-1zM222 497h1v1h-1zM223 498h1v2h-1zM224 500h1v1h-1zM225 501h1v1h-1zM226 502h1v2h-1zM227 504h1v1h-1zM228 505h1v1h-1zM229 506h1v1h-1zM230 507h1v1h-1zM231 508h1v2h-1zM232 510h1v1h-1zM233 511h1v1h-1zM234 512h1v1h-1zM235 513h1v1h-1zM236 514h1v1h-1zM237 515h1v1h-1zM238 516h1v1h-1zM239 517h1v1h-1zM240 518h1v1h-1zM241 519h1v1h-1zM242 520h1v1h-1zM243 521h1v1h-1zM244 522h1v1h-1zM245 523h1v1h-1zM246 524h1v1h-1zM247 525h2v1h-2zM249 526h1v1h-1zM250 527h1v1h-1zM251 528h1v1h-1zM252 529h2v1h-2zM254 530h2v1h-2zM256 531h2v1h-2zM258 532h2v1h-2zM260 533h2v1h-2zM262 534h1v1h-1zM263 535h2v1h-2zM265 536h2v1h-2zM267 537h2v1h-2zM269 538h4v1h-4zM273 539h3v1h-3zM276 540h1v1h-1zM277 541h1v1h-1zM278 542h1v1h-1zM279 543h2v1h-2zM281 544h1v1h-1zM282 545h1v1h-1zM283 546h1v1h-1zM284 547h1v1h-1zM285 548h2v1h-2zM287 549h1v1h-1zM288 550h1v1h-1zM289 551h2v1h-2zM291 552h2v1h-2zM293 553h2v1h-2zM295 554h3v1h-3zM298 555h2v1h-2zM300 556h1v1h-1zM301 557h2v1h-2zM303 558h1v1h-1zM304 559h1v1h-1zM305 560h2v1h-2zM307 561h2v1h-2zM309 562h4v1h-4zM313 563h3v1h-3zM316 562h1v1h-1zM317 561h1v1h-1zM318 560h1v1h-1zM319 558h1v2h-1zM320 557h1v1h-1zM321 556h1v1h-1zM322 555h1v1h-1zM323 554h1v1h-1zM324 552h1v2h-1zM325 551h1v1h-1zM326 550h1v1h-1zM327 548h1v2h-1zM328 547h1v1h-1zM329 546h1v1h-1zM330 544h1v2h-1zM331 543h1v1h-1zM332 542h2v1h-2zM334 541h1v1h-1zM335 540h1v1h-1zM336 539h2v1h-2zM338 538h1v1h-1zM339 537h13v1h-13zM352 536h8v1h-8zM360 535h7v1h-7zM367 536h8v1h-8zM375 537h8v1h-8zM383 538h30v1h-30zM413 539h2v1h-2zM415 540h3v1h-3zM418 541h2v1h-2zM420 542h2v1h-2zM422 543h2v1h-2zM424 544h2v1h-2zM426 545h3v1h-3zM429 546h2v1h-2zM431 547h3v1h-3zM434 548h6v1h-6zM440 547h5v1h-5zM445 546h2v1h-2zM447 545h2v1h-2zM449 544h2v1h-2zM451 543h1v1h-1zM452 542h2v1h-2zM454 541h2v1h-2zM456 540h1v1h-1zM457 539h2v1h-2zM459 538h1v1h-1zM460 536h1v2h-1zM461 534h1v2h-1zM462 532h1v2h-1zM463 531h1v1h-1zM464 529h1v2h-1zM465 527h1v2h-1zM466 525h1v2h-1zM467 524h1v1h-1zM468 522h1v2h-1zM469 520h1v2h-1zM470 519h1v1h-1zM471 517h1v2h-1zM472 516h1v1h-1zM473 514h1v2h-1zM474 512h1v2h-1zM475 511h2v1h-2zM477 510h2v1h-2zM479 509h2v1h-2zM481 508h2v1h-2zM483 507h2v1h-2zM485 506h2v1h-2zM487 505h2v1h-2zM489 504h2v1h-2zM491 503h1v1h-1zM492 502h2v1h-2zM494 501h1v1h-1zM495 500h1v1h-1zM496 499h2v1h-2zM498 498h1v1h-1zM499 497h1v1h-1zM500 496h2v1h-2zM502 495h2v1h-2zM504 494h1v1h-1zM505 493h2v1h-2zM507 492h1v1h-1zM508 491h1v1h-1zM509 489h1v2h-1zM510 488h1v1h-1zM511 487h1v1h-1zM512 486h1v1h-1zM513 484h1v2h-1zM514 483h1v1h-1zM515 482h2v1h-2zM517 481h2v1h-2zM519 480h2v1h-2zM521 479h2v1h-2zM523 478h10v1h-10zM533 477h3v1h-3zM536 476h2v1h-2zM538 475h3v1h-3zM541 474h3v1h-3zM544 473h2v1h-2zM546 472h3v1h-3zM549 471h3v1h-3zM552 470h2v1h-2zM554 469h4v1h-4zM558 468h4v1h-4zM562 467h3v1h-3zM565 468h4v1h-4zM569 469h4v1h-4zM573 470h4v1h-4zM577 471h4v1h-4zM581 472h2v1h-2zM583 473h3v1h-3zM586 474h2v1h-2zM588 475h1v1h-1zM589 476h1v1h-1zM590 477h1v1h-1zM591 478h1v2h-1zM592 480h1v1h-1zM593 481h1v1h-1zM594 482h1v1h-1zM595 483h1v1h-1zM596 484h1v1h-1zM597 485h1v1h-1zM598 486h1v1h-1zM599 487h1v2h-1zM600 489h1v1h-1zM601 490h1v1h-1zM602 491h1v1h-1zM603 492h1v1h-1zM604 493h2v1h-2zM606 494h1v1h-1zM607 495h2v1h-2zM609 496h2v1h-2zM611 497h1v1h-1zM612 498h2v1h-2zM614 499h2v1h-2zM616 500h2v1h-2zM618 501h2v1h-2zM620 500h2v1h-2zM622 499h2v1h-2zM624 498h1v1h-1zM625 497h2v1h-2zM627 496h1v1h-1zM628 495h1v1h-1zM629 494h1v1h-1zM630 493h1v1h-1zM631 492h1v1h-1zM632 491h1v1h-1zM633 490h1v1h-1zM634 489h1v1h-1zM635 488h1v1h-1zM636 487h1v1h-1zM637 486h1v1h-1zM638 485h2v1h-2zM640 484h1v1h-1zM641 483h1v1h-1zM642 482h1v1h-1zM643 481h1v1h-1zM644 480h1v1h-1zM645 479h1v1h-1zM646 478h1v1h-1zM647 476h1v2h-1zM648 475h1v1h-1zM649 474h1v1h-1zM650 473h1v1h-1zM651 472h1v1h-1zM652 471h1v1h-1zM653 470h1v1h-1zM654 469h1v1h-1zM655 467h1v2h-1zM656 466h1v1h-1zM657 465h1v1h-1zM658 464h1v1h-1zM659 463h1v1h-1zM660 461h1v2h-1zM661 459h1v2h-1zM662 457h1v2h-1zM663 456h1v1h-1zM664 454h1v2h-1zM665 452h1v2h-1zM666 450h1v2h-1zM667 449h1v1h-1zM668 447h1v2h-1zM669 445h1v2h-1zM670 444h1v1h-1zM671 442h1v2h-1zM672 441h1v1h-1zM673 439h1v2h-1zM674 437h1v2h-1zM675 436h1v1h-1zM676 434h1v2h-1zM677 433h1v1h-1zM678 432h1v1h-1zM679 430h1v2h-1zM680 429h1v1h-1zM681 428h1v1h-1zM682 426h1v2h-1zM683 425h1v1h-1zM684 423h1v2h-1zM685 422h1v1h-1zM686 420h1v2h-1zM687 419h1v1h-1zM688 417h1v2h-1zM689 416h1v1h-1zM690 414h1v2h-1zM691 413h1v1h-1zM692 411h1v2h-1zM693 410h1v1h-1zM694 408h1v2h-1zM695 407h1v1h-1zM696 405h1v2h-1zM697 404h1v1h-1zM698 402h1v2h-1zM699 401h1v1h-1zM700 399h1v2h-1zM701 397h1v2h-1zM702 396h1v1h-1zM703 394h1v2h-1zM704 393h1v1h-1zM705 391h1v2h-1zM706 389h1v2h-1zM707 388h1v1h-1zM708 386h1v2h-1zM709 384h1v2h-1zM710 382h1v2h-1zM711 380h1v2h-1zM712 378h1v2h-1zM713 376h1v2h-1zM714 374h1v2h-1zM715 372h1v2h-1zM716 370h1v2h-1zM717 368h1v2h-1zM718 365h1v3h-1zM719 363h1v2h-1zM720 360h1v3h-1zM721 358h1v2h-1zM722 356h1v2h-1zM723 354h1v2h-1zM724 353h1v1h-1zM725 351h1v2h-1zM726 350h1v1h-1zM727 349h1v1h-1zM728 348h1v1h-1zM729 346h1v2h-1zM730 345h1v1h-1zM731 344h1v1h-1zM732 342h1v2h-1zM733 340h1v2h-1zM734 339h1v1h-1zM735 337h1v2h-1zM736 336h1v1h-1zM737 334h1v2h-1zM738 332h1v2h-1zM739 331h1v1h-1zM740 329h1v2h-1zM741 327h1v2h-1zM742 325h1v2h-1zM743 323h1v2h-1zM744 321h1v2h-1zM745 319h1v2h-1zM746 317h1v2h-1zM747 316h3v1h-3zM750 315h4v1h-4zM754 314h4v1h-4zM758 313h4v1h-4zM762 312h3v1h-3zM765 311h2v1h-2zM767 310h2v1h-2zM769 309h2v1h-2zM771 308h4v1h-4zM775 309h7v1h-7zM782 308h4v1h-4zM786 307h3v1h-3zM789 308h2v1h-2zM791 309h3v1h-3zM794 310h2v1h-2zM796 311h1v1h-1zM797 312h1v1h-1zM798 313h1v1h-1zM799 314h2v1h-2zM801 315h1v1h-1zM802 316h1v1h-1zM803 317h5v1h-5zM808 316h15v1h-15zM823 317h5v1h-5zM828 316h2v1h-2zM830 315h1v1h-1zM831 314h1v1h-1zM832 313h2v1h-2zM834 312h1v1h-1zM835 311h1v1h-1zM836 310h1v1h-1zM837 308h1v2h-1zM838 307h1v1h-1zM839 306h1v1h-1zM840 305h1v1h-1zM841 303h1v2h-1zM842 302h1v1h-1zM843 301h1v1h-1zM844 300h1v1h-1zM845 299h1v1h-1zM846 298h1v1h-1zM847 296h1v2h-1zM848 295h1v1h-1zM849 294h1v1h-1zM850 293h1v1h-1zM851 292h1v1h-1zM852 291h1v1h-1zM853 290h1v1h-1zM854 289h1v1h-1zM855 287h1v2h-1zM856 286h1v1h-1zM857 285h1v1h-1zM858 284h1v1h-1zM859 283h1v1h-1zM860 282h1v1h-1zM861 280h1v2h-1zM862 279h1v1h-1zM863 278h1v1h-1zM864 277h1v1h-1zM865 275h1v2h-1zM866 274h1v1h-1zM867 273h1v1h-1zM868 271h1v2h-1zM869 270h1v1h-1zM870 269h1v1h-1zM871 267h1v2h-1zM872 266h1v1h-1zM873 265h1v1h-1zM874 263h1v2h-1zM875 262h1v1h-1zM876 260h1v2h-1zM877 258h1v2h-1zM878 257h1v1h-1zM879 255h1v2h-1zM880 254h1v1h-1zM881 252h1v2h-1zM882 250h1v2h-1zM883 249h1v1h-1zM884 247h1v2h-1zM885 245h1v2h-1zM886 244h1v1h-1zM887 242h1v2h-1zM888 241h1v1h-1zM889 239h1v2h-1zM890 237h1v2h-1zM891 236h1v1h-1zM892 235h1v1h-1zM893 234h1v1h-1zM894 233h1v1h-1zM895 232h1v1h-1zM896 231h1v1h-1zM897 230h1v1h-1zM898 229h1v1h-1zM899 228h1v1h-1zM900 227h1v1h-1zM901 225h1v2h-1zM902 224h1v1h-1zM903 223h1v1h-1zM904 222h1v1h-1zM905 220h1v2h-1zM906 219h1v1h-1zM907 218h1v1h-1zM908 217h1v1h-1zM909 216h1v1h-1zM910 215h1v1h-1zM911 213h1v2h-1zM912 212h1v1h-1zM913 211h1v1h-1zM914 210h1v1h-1zM915 209h1v1h-1zM916 207h1v2h-1zM917 206h1v1h-1zM918 204h1v2h-1zM919 203h1v1h-1zM920 201h1v2h-1zM921 200h1v1h-1zM922 198h1v2h-1zM923 197h1v1h-1zM924 195h1v2h-1zM925 193h1v2h-1zM926 191h1v2h-1zM927 189h1v2h-1zM928 187h1v2h-1zM929 185h1v2h-1zM930 183h1v2h-1zM931 180h1v3h-1zM932 178h1v2h-1zM933 176h1v2h-1zM934 174h1v2h-1zM935 171h1v3h-1zM936 169h1v2h-1zM937 167h1v2h-1zM938 165h1v2h-1zM939 163h1v2h-1zM940 161h1v2h-1zM941 159h1v2h-1zM942 157h1v2h-1zM943 155h1v2h-1zM944 153h1v2h-1zM945 151h1v2h-1zM946 149h1v2h-1zM947 148h1v1h-1zM948 147h2v1h-2zM950 146h1v1h-1zM951 145h1v1h-1zM952 144h2v1h-2zM954 143h1v1h-1zM955 142h4v1h-4zM959 143h17v1h-17zM976 142h8v1h-8zM984 141h5v1h-5zM989 140h3v1h-3zM992 139h2v1h-2zM994 138h14v1h-14zM1008 137h5v1h-5zM1013 136h3v1h-3zM1016 135h2v1h-2zM1018 134h3v1h-3zM1021 133h3v1h-3zM1024 132h2v1h-2zM1026 131h5v1h-5zM1031 132h8v1h-8zM1039 133h5v1h-5zM1044 134h1v2h-1zM1045 136h1v2h-1zM1046 138h1v2h-1zM1047 140h1v2h-1zM1048 142h1v2h-1zM1049 144h1v2h-1zM1050 146h1v2h-1zM1051 148h1v2h-1zM1052 150h1v2h-1zM1053 152h1v2h-1zM1054 154h1v2h-1zM1055 156h1v2h-1zM1056 158h1v2h-1zM1057 160h1v2h-1zM1058 162h1v2h-1zM1059 164h1v1h-1zM1060 165h1v1h-1zM1061 166h1v1h-1zM1062 167h1v1h-1zM1063 168h2v1h-2zM1065 169h1v1h-1zM1066 170h1v1h-1zM1067 171h1v1h-1zM1068 172h2v1h-2zM1070 173h1v1h-1zM1071 174h2v1h-2zM1073 175h2v1h-2zM1075 176h2v1h-2zM1077 177h2v1h-2zM1079 178h3v1h-3zM1082 179h3v1h-3zM1085 180h2v1h-2zM1087 181h3v1h-3zM1090 182h3v1h-3zM1093 183h2v1h-2zM1095 184h3v1h-3zM1098 185h2v1h-2zM1100 186h2v1h-2zM1102 187h2v1h-2zM1104 188h2v1h-2zM1106 189h5v1h-5zM1111 190h7v1h-7zM1118 189h4v1h-4zM1122 188h3v1h-3zM1125 187h2v1h-2zM1127 186h2v1h-2zM1129 185h2v1h-2zM1131 184h2v1h-2zM1133 183h2v1h-2zM1135 182h2v1h-2zM1137 181h2v1h-2zM1139 180h3v1h-3zM1142 179h4v1h-4zM1146 178h3v1h-3zM1149 177h3v1h-3zM1152 176h2v1h-2zM1154 175h14v1h-14zM1168 174h5v1h-5zM1173 175h2v1h-2zM1175 176h3v1h-3zM1178 177h2v1h-2zM1180 178h2v1h-2zM1182 179h2v1h-2zM1184 180h2v1h-2zM1186 181h3v1h-3zM1189 182h4v1h-4zM1193 183h4v1h-4zM1197 184h4v1h-4zM1201 185h5v1h-5zM1206 184h4v1h-4zM1210 183h6v1h-6zM1216 182h13v1h-13zM1229 183h2v1h-2zM1231 184h3v1h-3zM1234 185h14v1h-14zM1248 184h16v1h-16zM1264 183h20v1h-20zM1284 184h2v1h-2zM1286 185h2v1h-2zM1288 186h2v1h-2zM1290 187h3v1h-3zM1293 188h2v1h-2zM1295 189h3v1h-3zM1298 190h4v1h-4zM1302 189h4v1h-4zM1306 188h14v1h-14zM1320 187h6v1h-6zM1326 186h4v1h-4zM1330 185h5v1h-5zM1335 186h5v1h-5zM1340 187h2v1h-2zM1342 188h2v1h-2zM1344 189h2v1h-2zM1346 190h2v1h-2zM1348 191h2v1h-2zM1350 192h2v1h-2zM1352 193h2v1h-2zM1354 194h2v1h-2zM1356 195h1v1h-1zM1357 196h1v1h-1zM1358 197h1v1h-1zM1359 198h2v1h-2zM1361 199h1v1h-1zM1362 200h1v1h-1zM1363 201h1v1h-1zM1364 202h1v1h-1zM1365 203h1v2h-1zM1366 205h1v1h-1zM1367 206h1v1h-1zM1368 207h1v1h-1zM1369 208h1v2h-1zM1370 210h1v1h-1zM1371 211h1v1h-1zM1372 212h1v1h-1zM1373 213h1v2h-1zM1374 215h1v1h-1zM1375 216h1v1h-1zM1376 217h1v1h-1zM1377 218h1v2h-1zM1378 220h1v1h-1zM1379 221h1v1h-1zM1380 222h1v2h-1zM1381 224h1v1h-1zM1382 225h1v2h-1zM1383 227h1v1h-1zM1384 228h1v2h-1zM1385 230h1v1h-1zM1386 231h1v2h-1zM1387 233h1v1h-1zM1388 234h1v1h-1zM1389 235h1v1h-1zM1390 236h1v1h-1zM1391 237h1v1h-1zM1392 238h1v1h-1zM1393 239h1v1h-1zM1394 240h1v1h-1zM1395 241h1v1h-1zM1396 242h2v1h-2zM1398 243h1v1h-1zM1399 244h2v1h-2zM1401 245h2v1h-2zM1403 246h1v1h-1z"/><rect x="3" y="521" width="1" height="29" fill="#000"/><rect x="1" y="529" width="5" height="19" fill="#000"/><rect x="11" y="542" width="1" height="14" fill="#000"/><rect x="9" y="545" width="5" height="3" fill="#000"/><rect x="10" y="546" width="3" height="1" fill="#fff"/><rect x="19" y="527" width="1" height="19" fill="#000"/><rect x="17" y="530" width="5" height="14" fill="#000"/><rect x="18" y="531" width="3" height="12" fill="#fff"/><rect x="27" y="508" width="1" height="26" fill="#000"/><rect x="25" y="510" width="5" height="21" fill="#000"/><rect x="26" y="511" width="3" height="19" fill="#fff"/><rect x="35" y="464" width="1" height="59" fill="#000"/><rect x="33" y="465" width="5" height="46" fill="#000"/><rect x="34" y="466" width="3" height="44" fill="#fff"/><rect x="43" y="435" width="1" height="43" fill="#000"/><rect x="41" y="437" width="5" height="29" fill="#000"/><rect x="42" y="438" width="3" height="27" fill="#fff"/><rect x="51" y="434" width="1" height="11" fill="#000"/><rect x="49" y="437" width="5" height="6" fill="#000"/><rect x="59" y="438" width="1" height="8" fill="#000"/><rect x="57" y="440" width="5" height="4" fill="#000"/><rect x="58" y="441" width="3" height="2" fill="#fff"/><rect x="67" y="425" width="1" height="18" fill="#000"/><rect x="65" y="431" width="5" height="10" fill="#000"/><rect x="66" y="432" width="3" height="8" fill="#fff"/><rect x="75" y="420" width="1" height="20" fill="#000"/><rect x="73" y="431" width="5" height="6" fill="#000"/><rect x="83" y="433" width="1" height="22" fill="#000"/><rect x="81" y="436" width="5" height="17" fill="#000"/><rect x="91" y="430" width="1" height="32" fill="#000"/><rect x="89" y="435" width="5" height="18" fill="#000"/><rect x="90" y="436" width="3" height="16" fill="#fff"/><rect x="99" y="428" width="1" height="16" fill="#000"/><rect x="97" y="435" width="5" height="8" fill="#000"/><rect x="107" y="436" width="1" height="8" fill="#000"/><rect x="105" y="436" width="5" height="3" fill="#000"/><rect x="115" y="434" width="1" height="21" fill="#000"/><rect x="113" y="439" width="5" height="13" fill="#000"/><rect x="123" y="427" width="1" height="26" fill="#000"/><rect x="121" y="430" width="5" height="22" fill="#000"/><rect x="122" y="431" width="3" height="20" fill="#fff"/><rect x="131" y="395" width="1" height="39" fill="#000"/><rect x="129" y="407" width="5" height="24" fill="#000"/><rect x="130" y="408" width="3" height="22" fill="#fff"/><rect x="139" y="394" width="1" height="24" fill="#000"/><rect x="137" y="396" width="5" height="12" fill="#000"/><rect x="138" y="397" width="3" height="10" fill="#fff"/><rect x="147" y="393" width="1" height="10" fill="#000"/><rect x="145" y="396" width="5" height="3" fill="#000"/><rect x="155" y="395" width="1" height="16" fill="#000"/><rect x="153" y="398" width="5" height="6" fill="#000"/><rect x="163" y="379" width="1" height="31" fill="#000"/><rect x="161" y="380" width="5" height="24" fill="#000"/><rect x="162" y="381" width="3" height="22" fill="#fff"/><rect x="171" y="372" width="1" height="30" fill="#000"/><rect x="169" y="381" width="5" height="16" fill="#000"/><rect x="179" y="393" width="1" height="44" fill="#000"/><rect x="177" y="396" width="5" height="37" fill="#000"/><rect x="187" y="431" width="1" height="57" fill="#000"/><rect x="185" y="431" width="5" height="48" fill="#000"/><rect x="195" y="458" width="1" height="23" fill="#000"/><rect x="193" y="466" width="5" height="13" fill="#000"/><rect x="194" y="467" width="3" height="11" fill="#fff"/><rect x="203" y="457" width="1" height="12" fill="#000"/><rect x="201" y="460" width="5" height="7" fill="#000"/><rect x="202" y="461" width="3" height="5" fill="#fff"/><rect x="211" y="450" width="1" height="23" fill="#000"/><rect x="209" y="461" width="5" height="5" fill="#000"/><rect x="219" y="454" width="1" height="39" fill="#000"/><rect x="217" y="465" width="5" height="28" fill="#000"/><rect x="227" y="483" width="1" height="31" fill="#000"/><rect x="225" y="492" width="5" height="11" fill="#000"/><rect x="235" y="493" width="1" height="31" fill="#000"/><rect x="233" y="503" width="5" height="1" fill="#000"/><rect x="243" y="488" width="1" height="26" fill="#000"/><rect x="241" y="503" width="5" height="5" fill="#000"/><rect x="251" y="496" width="1" height="12" fill="#000"/><rect x="249" y="501" width="5" height="7" fill="#000"/><rect x="250" y="502" width="3" height="5" fill="#fff"/><rect x="259" y="485" width="1" height="20" fill="#000"/><rect x="257" y="485" width="5" height="17" fill="#000"/><rect x="258" y="486" width="3" height="15" fill="#fff"/><rect x="267" y="481" width="1" height="24" fill="#000"/><rect x="265" y="485" width="5" height="12" fill="#000"/><rect x="275" y="479" width="1" height="25" fill="#000"/><rect x="273" y="483" width="5" height="14" fill="#000"/><rect x="274" y="484" width="3" height="12" fill="#fff"/><rect x="283" y="464" width="1" height="51" fill="#000"/><rect x="281" y="483" width="5" height="25" fill="#000"/><rect x="291" y="505" width="1" height="25" fill="#000"/><rect x="289" y="507" width="5" height="16" fill="#000"/><rect x="299" y="510" width="1" height="17" fill="#000"/><rect x="297" y="511" width="5" height="12" fill="#000"/><rect x="298" y="512" width="3" height="10" fill="#fff"/><rect x="307" y="508" width="1" height="37" fill="#000"/><rect x="305" y="511" width="5" height="34" fill="#000"/><rect x="315" y="525" width="1" height="37" fill="#000"/><rect x="313" y="531" width="5" height="13" fill="#000"/><rect x="314" y="532" width="3" height="11" fill="#fff"/><rect x="323" y="482" width="1" height="66" fill="#000"/><rect x="321" y="489" width="5" height="43" fill="#000"/><rect x="322" y="490" width="3" height="41" fill="#fff"/><rect x="331" y="476" width="1" height="34" fill="#000"/><rect x="329" y="484" width="5" height="6" fill="#000"/><rect x="330" y="485" width="3" height="4" fill="#fff"/><rect x="339" y="480" width="1" height="13" fill="#000"/><rect x="337" y="484" width="5" height="6" fill="#000"/><rect x="347" y="482" width="1" height="7" fill="#000"/><rect x="345" y="482" width="5" height="6" fill="#000"/><rect x="355" y="482" width="1" height="25" fill="#000"/><rect x="353" y="487" width="5" height="14" fill="#000"/><rect x="363" y="474" width="1" height="31" fill="#000"/><rect x="361" y="475" width="5" height="26" fill="#000"/><rect x="362" y="476" width="3" height="24" fill="#fff"/><rect x="371" y="446" width="1" height="38" fill="#000"/><rect x="369" y="454" width="5" height="22" fill="#000"/><rect x="370" y="455" width="3" height="20" fill="#fff"/><rect x="379" y="431" width="1" height="49" fill="#000"/><rect x="377" y="454" width="5" height="14" fill="#000"/><rect x="387" y="456" width="1" height="18" fill="#000"/><rect x="385" y="462" width="5" height="6" fill="#000"/><rect x="386" y="463" width="3" height="4" fill="#fff"/><rect x="395" y="457" width="1" height="12" fill="#000"/><rect x="393" y="462" width="5" height="1" fill="#000"/><rect x="403" y="450" width="1" height="27" fill="#000"/><rect x="401" y="453" width="5" height="10" fill="#000"/><rect x="402" y="454" width="3" height="8" fill="#fff"/><rect x="411" y="438" width="1" height="26" fill="#000"/><rect x="409" y="451" width="5" height="3" fill="#000"/><rect x="410" y="452" width="3" height="1" fill="#fff"/><rect x="419" y="417" width="1" height="37" fill="#000"/><rect x="417" y="434" width="5" height="18" fill="#000"/><rect x="418" y="435" width="3" height="16" fill="#fff"/><rect x="427" y="402" width="1" height="37" fill="#000"/><rect x="425" y="408" width="5" height="27" fill="#000"/><rect x="426" y="409" width="3" height="25" fill="#fff"/><rect x="435" y="402" width="1" height="12" fill="#000"/><rect x="433" y="408" width="5" height="6" fill="#000"/><rect x="443" y="405" width="1" height="11" fill="#000"/><rect x="441" y="409" width="5" height="4" fill="#000"/><rect x="442" y="410" width="3" height="2" fill="#fff"/><rect x="451" y="396" width="1" height="19" fill="#000"/><rect x="449" y="406" width="5" height="4" fill="#000"/><rect x="450" y="407" width="3" height="2" fill="#fff"/><rect x="459" y="398" width="1" height="39" fill="#000"/><rect x="457" y="406" width="5" height="30" fill="#000"/><rect x="467" y="434" width="1" height="28" fill="#000"/><rect x="465" y="435" width="5" height="19" fill="#000"/><rect x="475" y="441" width="1" height="32" fill="#000"/><rect x="473" y="453" width="5" height="7" fill="#000"/><rect x="483" y="435" width="1" height="31" fill="#000"/><rect x="481" y="440" width="5" height="20" fill="#000"/><rect x="482" y="441" width="3" height="18" fill="#fff"/><rect x="491" y="436" width="1" height="9" fill="#000"/><rect x="489" y="437" width="5" height="5" fill="#000"/><rect x="490" y="438" width="3" height="3" fill="#fff"/><rect x="499" y="433" width="1" height="15" fill="#000"/><rect x="497" y="438" width="5" height="4" fill="#000"/><rect x="507" y="429" width="1" height="25" fill="#000"/><rect x="505" y="441" width="5" height="12" fill="#000"/><rect x="515" y="422" width="1" height="39" fill="#000"/><rect x="513" y="432" width="5" height="21" fill="#000"/><rect x="514" y="433" width="3" height="19" fill="#fff"/><rect x="523" y="403" width="1" height="36" fill="#000"/><rect x="521" y="405" width="5" height="28" fill="#000"/><rect x="522" y="406" width="3" height="26" fill="#fff"/><rect x="531" y="399" width="1" height="11" fill="#000"/><rect x="529" y="405" width="5" height="3" fill="#000"/><rect x="539" y="400" width="1" height="12" fill="#000"/><rect x="537" y="400" width="5" height="8" fill="#000"/><rect x="538" y="401" width="3" height="6" fill="#fff"/><rect x="547" y="384" width="1" height="21" fill="#000"/><rect x="545" y="393" width="5" height="8" fill="#000"/><rect x="546" y="394" width="3" height="6" fill="#fff"/><rect x="555" y="386" width="1" height="17" fill="#000"/><rect x="553" y="393" width="5" height="2" fill="#000"/><rect x="563" y="373" width="1" height="25" fill="#000"/><rect x="561" y="391" width="5" height="4" fill="#000"/><rect x="562" y="392" width="3" height="2" fill="#fff"/><rect x="571" y="351" width="1" height="49" fill="#000"/><rect x="569" y="355" width="5" height="37" fill="#000"/><rect x="570" y="356" width="3" height="35" fill="#fff"/><rect x="579" y="355" width="1" height="12" fill="#000"/><rect x="577" y="355" width="5" height="4" fill="#000"/><rect x="587" y="351" width="1" height="9" fill="#000"/><rect x="585" y="354" width="5" height="1" fill="#000"/><rect x="595" y="304" width="1" height="53" fill="#000"/><rect x="593" y="309" width="5" height="47" fill="#000"/><rect x="594" y="310" width="3" height="45" fill="#fff"/><rect x="603" y="285" width="1" height="31" fill="#000"/><rect x="601" y="294" width="5" height="16" fill="#000"/><rect x="602" y="295" width="3" height="14" fill="#fff"/><rect x="611" y="281" width="1" height="26" fill="#000"/><rect x="609" y="294" width="5" height="1" fill="#000"/><rect x="619" y="261" width="1" height="36" fill="#000"/><rect x="617" y="264" width="5" height="32" fill="#000"/><rect x="618" y="265" width="3" height="30" fill="#fff"/><rect x="627" y="264" width="1" height="26" fill="#000"/><rect x="625" y="264" width="5" height="26" fill="#000"/><rect x="635" y="281" width="1" height="12" fill="#000"/><rect x="633" y="285" width="5" height="4" fill="#000"/><rect x="634" y="286" width="3" height="2" fill="#fff"/><rect x="643" y="278" width="1" height="17" fill="#000"/><rect x="641" y="284" width="5" height="5" fill="#000"/><rect x="651" y="278" width="1" height="32" fill="#000"/><rect x="649" y="288" width="5" height="9" fill="#000"/><rect x="659" y="261" width="1" height="47" fill="#000"/><rect x="657" y="262" width="5" height="35" fill="#000"/><rect x="658" y="263" width="3" height="33" fill="#fff"/><rect x="667" y="244" width="1" height="41" fill="#000"/><rect x="665" y="253" width="5" height="10" fill="#000"/><rect x="666" y="254" width="3" height="8" fill="#fff"/><rect x="675" y="251" width="1" height="23" fill="#000"/><rect x="673" y="253" width="5" height="16" fill="#000"/><rect x="683" y="264" width="1" height="21" fill="#000"/><rect x="681" y="267" width="5" height="16" fill="#000"/><rect x="691" y="260" width="1" height="25" fill="#000"/><rect x="689" y="264" width="5" height="19" fill="#000"/><rect x="690" y="265" width="3" height="17" fill="#fff"/><rect x="699" y="247" width="1" height="27" fill="#000"/><rect x="697" y="251" width="5" height="14" fill="#000"/><rect x="698" y="252" width="3" height="12" fill="#fff"/><rect x="707" y="236" width="1" height="21" fill="#000"/><rect x="705" y="251" width="5" height="3" fill="#000"/><rect x="715" y="242" width="1" height="26" fill="#000"/><rect x="713" y="242" width="5" height="13" fill="#000"/><rect x="714" y="243" width="3" height="11" fill="#fff"/><rect x="723" y="239" width="1" height="18" fill="#000"/><rect x="721" y="242" width="5" height="8" fill="#000"/><rect x="731" y="241" width="1" height="14" fill="#000"/><rect x="729" y="241" width="5" height="9" fill="#000"/><rect x="730" y="242" width="3" height="7" fill="#fff"/><rect x="739" y="217" width="1" height="27" fill="#000"/><rect x="737" y="221" width="5" height="21" fill="#000"/><rect x="738" y="222" width="3" height="19" fill="#fff"/><rect x="747" y="210" width="1" height="22" fill="#000"/><rect x="745" y="217" width="5" height="6" fill="#000"/><rect x="746" y="218" width="3" height="4" fill="#fff"/><rect x="755" y="197" width="1" height="25" fill="#000"/><rect x="753" y="201" width="5" height="17" fill="#000"/><rect x="754" y="202" width="3" height="15" fill="#fff"/><rect x="763" y="192" width="1" height="23" fill="#000"/><rect x="761" y="201" width="5" height="10" fill="#000"/><rect x="771" y="202" width="1" height="13" fill="#000"/><rect x="769" y="208" width="5" height="6" fill="#000"/><rect x="779" y="196" width="1" height="18" fill="#000"/><rect x="777" y="200" width="5" height="14" fill="#000"/><rect x="778" y="201" width="3" height="12" fill="#fff"/><rect x="787" y="180" width="1" height="22" fill="#000"/><rect x="785" y="181" width="5" height="20" fill="#000"/><rect x="786" y="182" width="3" height="18" fill="#fff"/><rect x="795" y="137" width="1" height="46" fill="#000"/><rect x="793" y="146" width="5" height="36" fill="#000"/><rect x="794" y="147" width="3" height="34" fill="#fff"/><rect x="803" y="103" width="1" height="45" fill="#000"/><rect x="801" y="108" width="5" height="39" fill="#000"/><rect x="802" y="109" width="3" height="37" fill="#fff"/><rect x="811" y="96" width="1" height="26" fill="#000"/><rect x="809" y="106" width="5" height="3" fill="#000"/><rect x="810" y="107" width="3" height="1" fill="#fff"/><rect x="819" y="102" width="1" height="15" fill="#000"/><rect x="817" y="106" width="5" height="10" fill="#000"/><rect x="827" y="100" width="1" height="7" fill="#000"/><rect x="825" y="101" width="5" height="1" fill="#000"/><rect x="835" y="101" width="1" height="42" fill="#000"/><rect x="833" y="101" width="5" height="17" fill="#000"/><rect x="843" y="104" width="1" height="31" fill="#000"/><rect x="841" y="113" width="5" height="5" fill="#000"/><rect x="842" y="114" width="3" height="3" fill="#fff"/><rect x="851" y="111" width="1" height="21" fill="#000"/><rect x="849" y="113" width="5" height="3" fill="#000"/><rect x="859" y="115" width="1" height="25" fill="#000"/><rect x="857" y="116" width="5" height="17" fill="#000"/><rect x="867" y="121" width="1" height="13" fill="#000"/><rect x="865" y="121" width="5" height="12" fill="#000"/><rect x="866" y="122" width="3" height="10" fill="#fff"/><rect x="875" y="121" width="1" height="10" fill="#000"/><rect x="873" y="121" width="5" height="1" fill="#000"/><rect x="883" y="110" width="1" height="18" fill="#000"/><rect x="881" y="113" width="5" height="8" fill="#000"/><rect x="882" y="114" width="3" height="6" fill="#fff"/><rect x="891" y="104" width="1" height="21" fill="#000"/><rect x="889" y="112" width="5" height="2" fill="#000"/><rect x="899" y="65" width="1" height="53" fill="#000"/><rect x="897" y="70" width="5" height="44" fill="#000"/><rect x="898" y="71" width="3" height="42" fill="#fff"/><rect x="907" y="60" width="1" height="28" fill="#000"/><rect x="905" y="70" width="5" height="7" fill="#000"/><rect x="915" y="71" width="1" height="15" fill="#000"/><rect x="913" y="76" width="5" height="6" fill="#000"/><rect x="923" y="62" width="1" height="20" fill="#000"/><rect x="921" y="64" width="5" height="17" fill="#000"/><rect x="922" y="65" width="3" height="15" fill="#fff"/><rect x="931" y="51" width="1" height="16" fill="#000"/><rect x="929" y="56" width="5" height="10" fill="#000"/><rect x="930" y="57" width="3" height="8" fill="#fff"/><rect x="939" y="51" width="1" height="46" fill="#000"/><rect x="937" y="56" width="5" height="37" fill="#000"/><rect x="947" y="79" width="1" height="30" fill="#000"/><rect x="945" y="92" width="5" height="17" fill="#000"/><rect x="955" y="63" width="1" height="57" fill="#000"/><rect x="953" y="69" width="5" height="40" fill="#000"/><rect x="954" y="70" width="3" height="38" fill="#fff"/><rect x="963" y="59" width="1" height="19" fill="#000"/><rect x="961" y="64" width="5" height="6" fill="#000"/><rect x="962" y="65" width="3" height="4" fill="#fff"/><rect x="971" y="52" width="1" height="18" fill="#000"/><rect x="969" y="57" width="5" height="8" fill="#000"/><rect x="970" y="58" width="3" height="6" fill="#fff"/><rect x="979" y="53" width="1" height="14" fill="#000"/><rect x="977" y="58" width="5" height="7" fill="#000"/><rect x="987" y="64" width="1" height="47" fill="#000"/><rect x="985" y="65" width="5" height="18" fill="#000"/><rect x="995" y="79" width="1" height="32" fill="#000"/><rect x="993" y="81" width="5" height="2" fill="#000"/><rect x="1003" y="80" width="1" height="45" fill="#000"/><rect x="1001" y="81" width="5" height="35" fill="#000"/><rect x="1011" y="107" width="1" height="27" fill="#000"/><rect x="1009" y="108" width="5" height="8" fill="#000"/><rect x="1010" y="109" width="3" height="6" fill="#fff"/><rect x="1019" y="104" width="1" height="19" fill="#000"/><rect x="1017" y="108" width="5" height="12" fill="#000"/><rect x="1027" y="82" width="1" height="39" fill="#000"/><rect x="1025" y="99" width="5" height="22" fill="#000"/><rect x="1026" y="100" width="3" height="20" fill="#fff"/><rect x="1035" y="96" width="1" height="33" fill="#000"/><rect x="1033" y="99" width="5" height="27" fill="#000"/><rect x="1043" y="94" width="1" height="36" fill="#000"/><rect x="1041" y="122" width="5" height="4" fill="#000"/><rect x="1042" y="123" width="3" height="2" fill="#fff"/><rect x="1051" y="117" width="1" height="58" fill="#000"/><rect x="1049" y="122" width="5" height="53" fill="#000"/><rect x="1059" y="166" width="1" height="16" fill="#000"/><rect x="1057" y="174" width="5" height="1" fill="#000"/><rect x="1067" y="152" width="1" height="14" fill="#000"/><rect x="1065" y="152" width="5" height="9" fill="#000"/><rect x="1066" y="153" width="3" height="7" fill="#fff"/><rect x="1075" y="134" width="1" height="26" fill="#000"/><rect x="1073" y="143" width="5" height="10" fill="#000"/><rect x="1074" y="144" width="3" height="8" fill="#fff"/><rect x="1083" y="130" width="1" height="28" fill="#000"/><rect x="1081" y="139" width="5" height="5" fill="#000"/><rect x="1082" y="140" width="3" height="3" fill="#fff"/><rect x="1091" y="134" width="1" height="35" fill="#000"/><rect x="1089" y="138" width="5" height="18" fill="#000"/><rect x="1099" y="139" width="1" height="27" fill="#000"/><rect x="1097" y="143" width="5" height="13" fill="#000"/><rect x="1098" y="144" width="3" height="11" fill="#fff"/><rect x="1107" y="142" width="1" height="12" fill="#000"/><rect x="1105" y="143" width="5" height="5" fill="#000"/><rect x="1115" y="142" width="1" height="10" fill="#000"/><rect x="1113" y="144" width="5" height="4" fill="#000"/><rect x="1114" y="145" width="3" height="2" fill="#fff"/><rect x="1123" y="128" width="1" height="21" fill="#000"/><rect x="1121" y="131" width="5" height="14" fill="#000"/><rect x="1122" y="132" width="3" height="12" fill="#fff"/><rect x="1131" y="110" width="1" height="27" fill="#000"/><rect x="1129" y="117" width="5" height="15" fill="#000"/><rect x="1130" y="118" width="3" height="13" fill="#fff"/><rect x="1139" y="82" width="1" height="42" fill="#000"/><rect x="1137" y="101" width="5" height="17" fill="#000"/><rect x="1138" y="102" width="3" height="15" fill="#fff"/><rect x="1147" y="76" width="1" height="33" fill="#000"/><rect x="1145" y="102" width="5" height="4" fill="#000"/><rect x="1155" y="105" width="1" height="15" fill="#000"/><rect x="1153" y="106" width="5" height="11" fill="#000"/><rect x="1163" y="107" width="1" height="11" fill="#000"/><rect x="1161" y="110" width="5" height="7" fill="#000"/><rect x="1162" y="111" width="3" height="5" fill="#fff"/><rect x="1171" y="105" width="1" height="20" fill="#000"/><rect x="1169" y="111" width="5" height="12" fill="#000"/><rect x="1179" y="112" width="1" height="49" fill="#000"/><rect x="1177" y="122" width="5" height="36" fill="#000"/><rect x="1187" y="148" width="1" height="41" fill="#000"/><rect x="1185" y="157" width="5" height="16" fill="#000"/><rect x="1195" y="152" width="1" height="43" fill="#000"/><rect x="1193" y="161" width="5" height="12" fill="#000"/><rect x="1194" y="162" width="3" height="10" fill="#fff"/><rect x="1203" y="144" width="1" height="23" fill="#000"/><rect x="1201" y="156" width="5" height="6" fill="#000"/><rect x="1202" y="157" width="3" height="4" fill="#fff"/><rect x="1211" y="152" width="1" height="15" fill="#000"/><rect x="1209" y="156" width="5" height="8" fill="#000"/><rect x="1219" y="158" width="1" height="20" fill="#000"/><rect x="1217" y="164" width="5" height="3" fill="#000"/><rect x="1227" y="148" width="1" height="34" fill="#000"/><rect x="1225" y="159" width="5" height="8" fill="#000"/><rect x="1226" y="160" width="3" height="6" fill="#fff"/><rect x="1235" y="154" width="1" height="21" fill="#000"/><rect x="1233" y="159" width="5" height="7" fill="#000"/><rect x="1243" y="143" width="1" height="37" fill="#000"/><rect x="1241" y="148" width="5" height="17" fill="#000"/><rect x="1242" y="149" width="3" height="15" fill="#fff"/><rect x="1251" y="140" width="1" height="14" fill="#000"/><rect x="1249" y="143" width="5" height="6" fill="#000"/><rect x="1250" y="144" width="3" height="4" fill="#fff"/><rect x="1259" y="133" width="1" height="16" fill="#000"/><rect x="1257" y="133" width="5" height="11" fill="#000"/><rect x="1258" y="134" width="3" height="9" fill="#fff"/><rect x="1267" y="123" width="1" height="35" fill="#000"/><rect x="1265" y="133" width="5" height="4" fill="#000"/><rect x="1275" y="128" width="1" height="22" fill="#000"/><rect x="1273" y="136" width="5" height="4" fill="#000"/><rect x="1283" y="113" width="1" height="34" fill="#000"/><rect x="1281" y="119" width="5" height="21" fill="#000"/><rect x="1282" y="120" width="3" height="19" fill="#fff"/><rect x="1291" y="115" width="1" height="60" fill="#000"/><rect x="1289" y="119" width="5" height="54" fill="#000"/><rect x="1299" y="168" width="1" height="13" fill="#000"/><rect x="1297" y="172" width="5" height="9" fill="#000"/><rect x="1307" y="158" width="1" height="14" fill="#000"/><rect x="1305" y="160" width="5" height="5" fill="#000"/><rect x="1306" y="161" width="3" height="3" fill="#fff"/><rect x="1315" y="159" width="1" height="23" fill="#000"/><rect x="1313" y="159" width="5" height="6" fill="#000"/><rect x="1323" y="152" width="1" height="20" fill="#000"/><rect x="1321" y="164" width="5" height="3" fill="#000"/><rect x="1331" y="148" width="1" height="41" fill="#000"/><rect x="1329" y="164" width="5" height="3" fill="#000"/><rect x="1330" y="165" width="3" height="1" fill="#fff"/><rect x="1339" y="155" width="1" height="26" fill="#000"/><rect x="1337" y="163" width="5" height="3" fill="#000"/><rect x="1347" y="165" width="1" height="35" fill="#000"/><rect x="1345" y="165" width="5" height="26" fill="#000"/><rect x="1355" y="183" width="1" height="13" fill="#000"/><rect x="1353" y="189" width="5" height="1" fill="#000"/><rect x="1363" y="186" width="1" height="21" fill="#000"/><rect x="1361" y="189" width="5" height="14" fill="#000"/><rect x="1371" y="202" width="1" height="32" fill="#000"/><rect x="1369" y="202" width="5" height="19" fill="#000"/><rect x="1379" y="219" width="1" height="34" fill="#000"/><rect x="1377" y="220" width="5" height="6" fill="#000"/><rect x="1387" y="204" width="1" height="40" fill="#000"/><rect x="1385" y="224" width="5" height="17" fill="#000"/><rect x="1395" y="220" width="1" height="21" fill="#000"/><rect x="1393" y="225" width="5" height="16" fill="#000"/><rect x="1394" y="226" width="3" height="14" fill="#fff"/><rect x="1403" y="222" width="1" height="8" fill="#000"/><rect x="1401" y="222" width="5" height="4" fill="#000"/><rect x="1402" y="223" width="3" height="2" fill="#fff"/></g><g clip-path="url(#cm)"><rect x="1340" y="213" width="137" height="7" fill="#00ff00"/><line x1="1287" y1="132.3" x2="1403.1" y2="248.6" stroke="#ff0000" stroke-width="3"/><polygon fill="#ff0000" points="1409.5,255 1398.2,250.7 1405.3,243.7"/><rect x="1274" y="113" width="10" height="1" fill="#ff0000"/><path d="M1186 194.5H1195.5" stroke="#ff0000" fill="none"/><path d="M306 562.5H315.5" stroke="#ff0000" fill="none"/><path d="M1212 215.5H1219" stroke="#ff0000" fill="none"/><rect x="1219.5" y="213.5" width="2" height="3" fill="#fff" stroke="#ff0000"/><path d="M1373 253.5H1379" stroke="#ff0000" fill="none"/><rect x="1370.5" y="251.5" width="2" height="3" fill="#fff" stroke="#ff0000"/><rect x="1213.5" y="104.5" width="60" height="18" fill="#fff" stroke="#ff0000" stroke-width="1"/><text x="1243.5" y="119.83539999999999" font-size="16.3" fill="#ff0000" textLength="57.5" lengthAdjust="spacingAndGlyphs" text-anchor="middle" >157.099</text><rect x="1124.5" y="185.5" width="61" height="18" fill="#fff" stroke="#ff0000" stroke-width="1"/><text x="1155.0" y="200.8354" font-size="16.3" fill="#ff0000" textLength="58" lengthAdjust="spacingAndGlyphs" text-anchor="middle" >155.690</text><rect x="1222.5" y="203.5" width="73" height="24" fill="#fff" stroke="#ff0000" stroke-width="1"/><text x="1259.0" y="224.055" font-size="22.5" fill="#ff0000" textLength="70" lengthAdjust="spacingAndGlyphs" text-anchor="middle" >155.311</text><rect x="1308.5" y="244.5" width="61" height="18" fill="#fff" stroke="#ff0000" stroke-width="1"/><text x="1339.0" y="259.8354" font-size="16.3" fill="#ff0000" textLength="58" lengthAdjust="spacingAndGlyphs" text-anchor="middle" >154.644</text><rect x="244.5" y="553.5" width="61" height="18" fill="#fff" stroke="#ff0000" stroke-width="1"/><text x="275.0" y="568.8354" font-size="16.3" fill="#ff0000" textLength="58" lengthAdjust="spacingAndGlyphs" text-anchor="middle" >149.212</text><polygon points="1408,24 1417,24 1412.5,28.5" fill="#a0a0a0"/></g><rect x="1641.5" y="175.5" width="4" height="4" fill="#fff" stroke="#ff0000"/><rect x="1641.5" y="196.5" width="4" height="4" fill="#fff" stroke="#ff0000"/><rect x="1641.5" y="251.5" width="4" height="4" fill="#fff" stroke="#0000ff"/><rect x="1641.5" y="277.5" width="4" height="4" fill="#fff" stroke="#0000ff"/><g clip-path="url(#c2)"><rect x="3" y="684" width="1" height="47" fill="#c0c0c0"/><rect x="11" y="684" width="1" height="45" fill="#c0c0c0"/><rect x="19" y="684" width="1" height="40" fill="#c0c0c0"/><rect x="27" y="684" width="1" height="33" fill="#c0c0c0"/><rect x="35" y="684" width="1" height="21" fill="#c0c0c0"/><rect x="43" y="684" width="1" height="7" fill="#c0c0c0"/><rect x="51" y="680" width="1" height="5" fill="#c0c0c0"/><rect x="59" y="672" width="1" height="13" fill="#c0c0c0"/><rect x="67" y="664" width="1" height="21" fill="#c0c0c0"/><rect x="75" y="659" width="1" height="26" fill="#c0c0c0"/><rect x="83" y="658" width="1" height="27" fill="#c0c0c0"/><rect x="91" y="655" width="1" height="30" fill="#c0c0c0"/><rect x="99" y="654" width="1" height="31" fill="#c0c0c0"/><rect x="107" y="653" width="1" height="32" fill="#c0c0c0"/><rect x="115" y="654" width="1" height="31" fill="#c0c0c0"/><rect x="123" y="652" width="1" height="33" fill="#c0c0c0"/><rect x="131" y="648" width="1" height="37" fill="#c0c0c0"/><rect x="139" y="644" width="1" height="41" fill="#c0c0c0"/><rect x="147" y="641" width="1" height="44" fill="#c0c0c0"/><rect x="155" y="640" width="1" height="45" fill="#c0c0c0"/><rect x="163" y="637" width="1" height="48" fill="#c0c0c0"/><rect x="171" y="637" width="1" height="48" fill="#c0c0c0"/><rect x="179" y="643" width="1" height="42" fill="#c0c0c0"/><rect x="187" y="654" width="1" height="31" fill="#c0c0c0"/><rect x="195" y="662" width="1" height="23" fill="#c0c0c0"/><rect x="203" y="667" width="1" height="18" fill="#c0c0c0"/><rect x="211" y="672" width="1" height="13" fill="#c0c0c0"/><rect x="219" y="680" width="1" height="5" fill="#c0c0c0"/><rect x="227" y="684" width="1" height="5" fill="#c0c0c0"/><rect x="235" y="684" width="1" height="11" fill="#c0c0c0"/><rect x="243" y="684" width="1" height="17" fill="#c0c0c0"/><rect x="251" y="684" width="1" height="20" fill="#c0c0c0"/><rect x="259" y="684" width="1" height="20" fill="#c0c0c0"/><rect x="267" y="684" width="1" height="21" fill="#c0c0c0"/><rect x="275" y="684" width="1" height="20" fill="#c0c0c0"/><rect x="283" y="684" width="1" height="22" fill="#c0c0c0"/><rect x="291" y="684" width="1" height="26" fill="#c0c0c0"/><rect x="299" y="684" width="1" height="27" fill="#c0c0c0"/><rect x="307" y="684" width="1" height="32" fill="#c0c0c0"/><rect x="315" y="684" width="1" height="34" fill="#c0c0c0"/><rect x="323" y="684" width="1" height="29" fill="#c0c0c0"/><rect x="331" y="684" width="1" height="25" fill="#c0c0c0"/><rect x="339" y="684" width="1" height="21" fill="#c0c0c0"/><rect x="347" y="684" width="1" height="18" fill="#c0c0c0"/><rect x="355" y="684" width="1" height="17" fill="#c0c0c0"/><rect x="363" y="684" width="1" height="13" fill="#c0c0c0"/><rect x="371" y="684" width="1" height="7" fill="#c0c0c0"/><rect x="379" y="684" width="1" height="3" fill="#c0c0c0"/><rect x="387" y="683" width="1" height="2" fill="#c0c0c0"/><rect x="395" y="680" width="1" height="5" fill="#c0c0c0"/><rect x="403" y="677" width="1" height="8" fill="#c0c0c0"/><rect x="411" y="674" width="1" height="11" fill="#c0c0c0"/><rect x="419" y="670" width="1" height="15" fill="#c0c0c0"/><rect x="427" y="663" width="1" height="22" fill="#c0c0c0"/><rect x="435" y="658" width="1" height="27" fill="#c0c0c0"/><rect x="443" y="654" width="1" height="31" fill="#c0c0c0"/><rect x="451" y="651" width="1" height="34" fill="#c0c0c0"/><rect x="459" y="654" width="1" height="31" fill="#c0c0c0"/><rect x="467" y="658" width="1" height="27" fill="#c0c0c0"/><rect x="475" y="663" width="1" height="22" fill="#c0c0c0"/><rect x="483" y="664" width="1" height="21" fill="#c0c0c0"/><rect x="491" y="665" width="1" height="20" fill="#c0c0c0"/><rect x="499" y="666" width="1" height="19" fill="#c0c0c0"/><rect x="507" y="669" width="1" height="16" fill="#c0c0c0"/><rect x="515" y="669" width="1" height="16" fill="#c0c0c0"/><rect x="523" y="665" width="1" height="20" fill="#c0c0c0"/><rect x="531" y="662" width="1" height="23" fill="#c0c0c0"/><rect x="539" y="659" width="1" height="26" fill="#c0c0c0"/><rect x="547" y="656" width="1" height="29" fill="#c0c0c0"/><rect x="555" y="655" width="1" height="30" fill="#c0c0c0"/><rect x="563" y="653" width="1" height="32" fill="#c0c0c0"/><rect x="571" y="647" width="1" height="38" fill="#c0c0c0"/><rect x="579" y="643" width="1" height="42" fill="#c0c0c0"/><rect x="587" y="640" width="1" height="45" fill="#c0c0c0"/><rect x="595" y="632" width="1" height="53" fill="#c0c0c0"/><rect x="603" y="624" width="1" height="61" fill="#c0c0c0"/><rect x="611" y="619" width="1" height="66" fill="#c0c0c0"/><rect x="619" y="611" width="1" height="74" fill="#c0c0c0"/><rect x="627" y="609" width="1" height="76" fill="#c0c0c0"/><rect x="635" y="608" width="1" height="77" fill="#c0c0c0"/><rect x="643" y="608" width="1" height="77" fill="#c0c0c0"/><rect x="651" y="610" width="1" height="75" fill="#c0c0c0"/><rect x="659" y="608" width="1" height="77" fill="#c0c0c0"/><rect x="667" y="606" width="1" height="79" fill="#c0c0c0"/><rect x="675" y="608" width="1" height="77" fill="#c0c0c0"/><rect x="683" y="612" width="1" height="73" fill="#c0c0c0"/><rect x="691" y="613" width="1" height="72" fill="#c0c0c0"/><rect x="699" y="613" width="1" height="72" fill="#c0c0c0"/><rect x="707" y="614" width="1" height="71" fill="#c0c0c0"/><rect x="715" y="614" width="1" height="71" fill="#c0c0c0"/><rect x="723" y="616" width="1" height="69" fill="#c0c0c0"/><rect x="731" y="617" width="1" height="68" fill="#c0c0c0"/><rect x="739" y="616" width="1" height="69" fill="#c0c0c0"/><rect x="747" y="615" width="1" height="70" fill="#c0c0c0"/><rect x="755" y="613" width="1" height="72" fill="#c0c0c0"/><rect x="763" y="614" width="1" height="71" fill="#c0c0c0"/><rect x="771" y="615" width="1" height="70" fill="#c0c0c0"/><rect x="779" y="616" width="1" height="69" fill="#c0c0c0"/><rect x="787" y="614" width="1" height="71" fill="#c0c0c0"/><rect x="795" y="608" width="1" height="77" fill="#c0c0c0"/><rect x="803" y="599" width="1" height="86" fill="#c0c0c0"/><rect x="811" y="593" width="1" height="92" fill="#c0c0c0"/><rect x="819" y="591" width="1" height="94" fill="#c0c0c0"/><rect x="827" y="588" width="1" height="97" fill="#c0c0c0"/><rect x="835" y="589" width="1" height="96" fill="#c0c0c0"/><rect x="843" y="590" width="1" height="95" fill="#c0c0c0"/><rect x="851" y="593" width="1" height="92" fill="#c0c0c0"/><rect x="859" y="598" width="1" height="87" fill="#c0c0c0"/><rect x="867" y="602" width="1" height="83" fill="#c0c0c0"/><rect x="875" y="605" width="1" height="80" fill="#c0c0c0"/><rect x="883" y="608" width="1" height="77" fill="#c0c0c0"/><rect x="891" y="611" width="1" height="74" fill="#c0c0c0"/><rect x="899" y="608" width="1" height="77" fill="#c0c0c0"/><rect x="907" y="608" width="1" height="77" fill="#c0c0c0"/><rect x="915" y="609" width="1" height="76" fill="#c0c0c0"/><rect x="923" y="608" width="1" height="77" fill="#c0c0c0"/><rect x="931" y="607" width="1" height="78" fill="#c0c0c0"/><rect x="939" y="613" width="1" height="72" fill="#c0c0c0"/><rect x="947" y="620" width="1" height="65" fill="#c0c0c0"/><rect x="955" y="621" width="1" height="64" fill="#c0c0c0"/><rect x="963" y="622" width="1" height="63" fill="#c0c0c0"/><rect x="971" y="622" width="1" height="63" fill="#c0c0c0"/><rect x="979" y="624" width="1" height="61" fill="#c0c0c0"/><rect x="987" y="629" width="1" height="56" fill="#c0c0c0"/><rect x="995" y="633" width="1" height="52" fill="#c0c0c0"/><rect x="1003" y="642" width="1" height="43" fill="#c0c0c0"/><rect x="1011" y="648" width="1" height="37" fill="#c0c0c0"/><rect x="1019" y="655" width="1" height="30" fill="#c0c0c0"/><rect x="1027" y="658" width="1" height="27" fill="#c0c0c0"/><rect x="1035" y="664" width="1" height="21" fill="#c0c0c0"/><rect x="1043" y="669" width="1" height="16" fill="#c0c0c0"/><rect x="1051" y="680" width="1" height="5" fill="#c0c0c0"/><rect x="1059" y="684" width="1" height="6" fill="#c0c0c0"/><rect x="1067" y="684" width="1" height="10" fill="#c0c0c0"/><rect x="1075" y="684" width="1" height="11" fill="#c0c0c0"/><rect x="1083" y="684" width="1" height="12" fill="#c0c0c0"/><rect x="1091" y="684" width="1" height="15" fill="#c0c0c0"/><rect x="1099" y="684" width="1" height="15" fill="#c0c0c0"/><rect x="1107" y="684" width="1" height="15" fill="#c0c0c0"/><rect x="1115" y="684" width="1" height="15" fill="#c0c0c0"/><rect x="1123" y="684" width="1" height="13" fill="#c0c0c0"/><rect x="1131" y="684" width="1" height="9" fill="#c0c0c0"/><rect x="1139" y="684" width="1" height="4" fill="#c0c0c0"/><rect x="1147" y="683" width="1" height="2" fill="#c0c0c0"/><rect x="1155" y="682" width="1" height="3" fill="#c0c0c0"/><rect x="1163" y="680" width="1" height="5" fill="#c0c0c0"/><rect x="1171" y="681" width="1" height="4" fill="#c0c0c0"/><rect x="1179" y="684" width="1" height="3" fill="#c0c0c0"/><rect x="1187" y="684" width="1" height="9" fill="#c0c0c0"/><rect x="1195" y="684" width="1" height="12" fill="#c0c0c0"/><rect x="1203" y="684" width="1" height="14" fill="#c0c0c0"/><rect x="1211" y="684" width="1" height="16" fill="#c0c0c0"/><rect x="1219" y="684" width="1" height="18" fill="#c0c0c0"/><rect x="1227" y="684" width="1" height="19" fill="#c0c0c0"/><rect x="1235" y="684" width="1" height="19" fill="#c0c0c0"/><rect x="1243" y="684" width="1" height="18" fill="#c0c0c0"/><rect x="1251" y="684" width="1" height="15" fill="#c0c0c0"/><rect x="1259" y="684" width="1" height="12" fill="#c0c0c0"/><rect x="1267" y="684" width="1" height="9" fill="#c0c0c0"/><rect x="1275" y="684" width="1" height="8" fill="#c0c0c0"/><rect x="1283" y="684" width="1" height="4" fill="#c0c0c0"/><rect x="1291" y="684" width="1" height="8" fill="#c0c0c0"/><rect x="1299" y="684" width="1" height="13" fill="#c0c0c0"/><rect x="1307" y="684" width="1" height="13" fill="#c0c0c0"/><rect x="1315" y="684" width="1" height="14" fill="#c0c0c0"/><rect x="1323" y="684" width="1" height="15" fill="#c0c0c0"/><rect x="1331" y="684" width="1" height="15" fill="#c0c0c0"/><rect x="1339" y="684" width="1" height="15" fill="#c0c0c0"/><rect x="1347" y="684" width="1" height="18" fill="#c0c0c0"/><rect x="1355" y="684" width="1" height="21" fill="#c0c0c0"/><rect x="1363" y="684" width="1" height="24" fill="#c0c0c0"/><rect x="1371" y="684" width="1" height="29" fill="#c0c0c0"/><rect x="1379" y="684" width="1" height="34" fill="#c0c0c0"/><rect x="1387" y="684" width="1" height="39" fill="#c0c0c0"/><rect x="1395" y="684" width="1" height="40" fill="#c0c0c0"/><rect x="1403" y="684" width="1" height="41" fill="#c0c0c0"/><path fill="#ff0000" d="M0 738h3v1h-3zM6 738h2v1h-2zM8 737h1v1h-1zM12 737h3v1h-3zM18 736h3v1h-3zM24 735h2v1h-2zM26 734h1v1h-1zM30 732h1v1h-1zM31 731h1v1h-1zM32 730h1v1h-1zM36 727h2v1h-2zM38 726h1v1h-1zM42 724h1v1h-1zM43 723h1v1h-1zM44 722h1v1h-1zM48 719h2v1h-2zM50 718h1v1h-1zM54 714h1v1h-1zM55 712h1v2h-1zM59 708h1v1h-1zM60 707h1v1h-1zM61 706h1v1h-1zM65 702h1v1h-1zM66 701h1v1h-1zM67 700h1v1h-1zM71 696h1v1h-1zM72 695h1v1h-1zM73 694h1v1h-1zM77 690h1v1h-1zM78 689h2v1h-2zM83 685h1v1h-1zM84 684h1v1h-1zM85 683h1v1h-1zM89 679h1v1h-1zM90 678h1v1h-1zM91 677h1v1h-1zM95 674h1v1h-1zM96 673h1v1h-1zM97 672h1v1h-1zM101 669h1v1h-1zM102 668h1v1h-1zM103 667h1v1h-1zM107 664h2v1h-2zM109 663h1v1h-1zM113 661h2v1h-2zM115 660h1v1h-1zM119 659h1v1h-1zM120 658h2v1h-2zM125 657h1v1h-1zM126 656h2v1h-2zM131 655h2v1h-2zM133 654h1v1h-1zM137 653h1v1h-1zM138 652h2v1h-2zM143 651h3v1h-3zM149 650h1v1h-1zM150 649h2v1h-2zM155 648h3v1h-3zM161 647h1v1h-1zM162 646h2v1h-2zM167 646h1v1h-1zM168 645h2v1h-2zM173 645h1v1h-1zM174 644h2v1h-2zM179 643h3v1h-3zM185 643h3v1h-3zM191 644h2v1h-2zM193 645h1v1h-1zM197 646h3v1h-3zM203 647h2v1h-2zM205 648h1v1h-1zM209 649h1v1h-1zM210 650h2v1h-2zM215 652h1v1h-1zM216 653h2v1h-2zM221 655h1v1h-1zM222 656h1v1h-1zM223 657h1v1h-1zM227 659h1v1h-1zM228 660h1v1h-1zM229 661h1v1h-1zM233 664h1v1h-1zM234 665h1v1h-1zM235 666h1v1h-1zM239 670h2v1h-2zM241 671h1v1h-1zM245 675h2v1h-2zM247 676h1v1h-1zM251 679h1v1h-1zM252 680h1v1h-1zM253 681h1v1h-1zM257 684h2v1h-2zM259 685h1v1h-1zM263 688h2v1h-2zM265 689h1v1h-1zM269 691h1v1h-1zM270 692h2v1h-2zM275 694h2v1h-2zM277 695h1v1h-1zM281 696h1v1h-1zM282 697h2v1h-2zM287 699h3v1h-3zM293 701h2v1h-2zM295 702h1v1h-1zM299 703h2v1h-2zM301 704h1v1h-1zM305 705h3v1h-3zM311 706h2v1h-2zM313 707h1v1h-1zM317 707h2v1h-2zM319 708h1v1h-1zM323 708h3v1h-3zM329 709h3v1h-3zM335 709h3v1h-3zM341 709h3v1h-3zM347 709h3v1h-3zM353 708h3v1h-3zM359 708h1v1h-1zM360 707h2v1h-2zM365 706h3v1h-3zM371 704h2v1h-2zM373 703h1v1h-1zM377 702h1v1h-1zM378 701h2v1h-2zM383 699h2v1h-2zM385 698h1v1h-1zM389 696h3v1h-3zM395 694h2v1h-2zM397 693h1v1h-1zM401 691h2v1h-2zM403 690h1v1h-1zM407 689h1v1h-1zM408 688h2v1h-2zM413 686h3v1h-3zM419 684h1v1h-1zM420 683h2v1h-2zM425 680h2v1h-2zM427 679h1v1h-1zM431 677h2v1h-2zM433 676h1v1h-1zM437 674h2v1h-2zM439 673h1v1h-1zM443 671h2v1h-2zM445 670h1v1h-1zM449 668h2v1h-2zM451 667h1v1h-1zM455 666h1v1h-1zM456 665h2v1h-2zM461 664h1v1h-1zM462 663h2v1h-2zM467 662h3v1h-3zM473 661h1v1h-1zM474 660h2v1h-2zM479 660h1v1h-1zM480 659h2v1h-2zM485 659h3v1h-3zM491 658h3v1h-3zM497 659h3v1h-3zM503 660h3v1h-3zM509 661h3v1h-3zM515 662h3v1h-3zM521 663h3v1h-3zM527 664h3v1h-3zM533 664h3v1h-3zM539 664h3v1h-3zM545 663h3v1h-3zM551 663h1v1h-1zM552 662h2v1h-2zM557 662h3v1h-3zM563 661h3v1h-3zM569 660h1v1h-1zM570 659h2v1h-2zM575 658h1v1h-1zM576 657h2v1h-2zM581 655h3v1h-3zM587 653h2v1h-2zM589 652h1v1h-1zM593 650h2v1h-2zM595 649h1v1h-1zM599 647h2v1h-2zM601 646h1v1h-1zM605 644h2v1h-2zM607 643h1v1h-1zM611 641h1v1h-1zM612 640h2v1h-2zM617 637h1v1h-1zM618 636h1v1h-1zM619 635h1v1h-1zM623 633h1v1h-1zM624 632h1v1h-1zM625 631h1v1h-1zM629 629h1v1h-1zM630 628h2v1h-2zM635 625h2v1h-2zM637 624h1v1h-1zM641 622h2v1h-2zM643 621h1v1h-1zM647 619h2v1h-2zM649 618h1v1h-1zM653 616h3v1h-3zM659 614h2v1h-2zM661 613h1v1h-1zM665 612h1v1h-1zM666 611h2v1h-2zM671 610h3v1h-3zM677 609h3v1h-3zM683 608h3v1h-3zM689 609h3v1h-3zM695 609h3v1h-3zM701 609h2v1h-2zM703 610h1v1h-1zM707 610h3v1h-3zM713 610h3v1h-3zM719 611h3v1h-3zM725 611h2v1h-2zM727 612h1v1h-1zM731 612h3v1h-3zM737 613h3v1h-3zM743 614h3v1h-3zM749 614h3v1h-3zM755 614h3v1h-3zM761 614h3v1h-3zM767 615h3v1h-3zM773 615h3v1h-3zM779 615h3v1h-3zM785 615h3v1h-3zM791 615h1v1h-1zM792 614h2v1h-2zM797 614h1v1h-1zM798 613h2v1h-2zM803 612h2v1h-2zM805 611h1v1h-1zM809 610h1v1h-1zM810 609h2v1h-2zM815 608h3v1h-3zM821 606h3v1h-3zM827 604h2v1h-2zM829 603h1v1h-1zM833 602h1v1h-1zM834 601h2v1h-2zM839 600h1v1h-1zM840 599h2v1h-2zM845 598h1v1h-1zM846 597h2v1h-2zM851 596h3v1h-3zM857 595h1v1h-1zM858 594h2v1h-2zM863 594h1v1h-1zM864 593h2v1h-2zM869 593h2v1h-2zM871 594h1v1h-1zM875 594h3v1h-3zM881 595h3v1h-3zM887 597h3v1h-3zM893 599h3v1h-3zM899 600h2v1h-2zM901 601h1v1h-1zM905 602h3v1h-3zM911 603h2v1h-2zM913 604h1v1h-1zM917 605h3v1h-3zM923 606h3v1h-3zM929 607h3v1h-3zM935 608h3v1h-3zM941 609h3v1h-3zM947 610h3v1h-3zM953 611h3v1h-3zM959 612h3v1h-3zM965 613h3v1h-3zM971 614h2v1h-2zM973 615h1v1h-1zM977 616h3v1h-3zM983 617h2v1h-2zM985 618h1v1h-1zM989 619h2v1h-2zM991 620h1v1h-1zM995 621h1v1h-1zM996 622h2v1h-2zM1001 624h1v1h-1zM1002 625h2v1h-2zM1007 627h3v1h-3zM1013 629h1v1h-1zM1014 630h2v1h-2zM1019 632h1v1h-1zM1020 633h2v1h-2zM1025 635h1v1h-1zM1026 636h2v1h-2zM1031 639h2v1h-2zM1033 640h1v1h-1zM1037 642h1v1h-1zM1038 643h1v1h-1zM1039 644h1v1h-1zM1043 646h1v1h-1zM1044 647h1v1h-1zM1045 648h1v1h-1zM1049 651h1v1h-1zM1050 652h1v1h-1zM1051 653h1v1h-1zM1055 656h1v1h-1zM1056 657h1v1h-1zM1057 658h1v1h-1zM1061 661h1v1h-1zM1062 662h1v1h-1zM1063 663h1v1h-1zM1067 666h1v1h-1zM1068 667h1v1h-1zM1069 668h1v1h-1zM1073 671h2v1h-2zM1075 672h1v1h-1zM1079 675h2v1h-2zM1081 676h1v1h-1zM1085 678h1v1h-1zM1086 679h1v1h-1zM1087 680h1v1h-1zM1091 682h1v1h-1zM1092 683h2v1h-2zM1097 685h1v1h-1zM1098 686h2v1h-2zM1103 688h1v1h-1zM1104 689h2v1h-2zM1109 691h2v1h-2zM1111 692h1v1h-1zM1115 693h2v1h-2zM1117 694h1v1h-1zM1121 695h3v1h-3zM1127 695h3v1h-3zM1133 695h3v1h-3zM1139 695h3v1h-3zM1145 694h1v1h-1zM1146 693h2v1h-2zM1151 693h1v1h-1zM1152 692h2v1h-2zM1157 692h1v1h-1zM1158 691h2v1h-2zM1163 690h3v1h-3zM1169 689h1v1h-1zM1170 688h2v1h-2zM1175 688h1v1h-1zM1176 687h2v1h-2zM1181 687h3v1h-3zM1187 686h3v1h-3zM1193 686h3v1h-3zM1199 687h3v1h-3zM1205 687h2v1h-2zM1207 688h1v1h-1zM1211 688h2v1h-2zM1213 689h1v1h-1zM1217 690h3v1h-3zM1223 691h2v1h-2zM1225 692h1v1h-1zM1229 693h2v1h-2zM1231 694h1v1h-1zM1235 695h2v1h-2zM1237 696h1v1h-1zM1241 697h3v1h-3zM1247 698h3v1h-3zM1253 698h3v1h-3zM1259 698h3v1h-3zM1265 698h3v1h-3zM1271 698h1v1h-1zM1272 697h2v1h-2zM1277 697h3v1h-3zM1283 696h3v1h-3zM1289 695h3v1h-3zM1295 695h1v1h-1zM1296 694h2v1h-2zM1301 694h3v1h-3zM1307 694h3v1h-3zM1313 693h3v1h-3zM1319 693h3v1h-3zM1325 693h3v1h-3zM1331 693h3v1h-3zM1337 694h3v1h-3zM1343 695h3v1h-3zM1349 696h3v1h-3zM1355 697h2v1h-2zM1357 698h1v1h-1zM1361 699h3v1h-3zM1367 700h2v1h-2zM1369 701h1v1h-1zM1373 702h3v1h-3zM1379 703h2v1h-2zM1381 704h1v1h-1zM1385 705h1v1h-1zM1386 706h2v1h-2zM1391 708h3v1h-3zM1397 710h2v1h-2zM1399 711h1v1h-1zM1403 712h1v1h-1z"/></g><line x1="1320" y1="688" x2="1408.6" y2="721.3" stroke="#ff0000" stroke-width="3.2"/><polygon fill="#ff0000" points="1418,724.8 1405,725.3 1408.5,715.9"/><g clip-path="url(#c3)"><path d="M0 786.5H1646" stroke="#c0c0c0" stroke-dasharray="3 3" shape-rendering="crispEdges"/><path d="M0 837.5H1646" stroke="#c0c0c0" stroke-dasharray="3 3" shape-rendering="crispEdges"/><path d="M0 898.5H1646" stroke="#c0c0c0" stroke-dasharray="3 3" shape-rendering="crispEdges"/><path fill="#1e90ff" d="M0 852h1v1h-1zM1 853h1v1h-1zM2 854h1v1h-1zM3 855h3v1h-3zM6 854h4v1h-4zM10 853h2v1h-2zM12 852h1v1h-1zM13 851h1v1h-1zM14 850h1v1h-1zM15 848h1v2h-1zM16 847h1v1h-1zM17 846h1v1h-1zM18 845h1v1h-1zM19 844h1v1h-1zM20 843h1v1h-1zM21 841h1v2h-1zM22 840h1v1h-1zM23 839h1v1h-1zM24 838h1v1h-1zM25 836h1v2h-1zM26 835h1v1h-1zM27 833h1v2h-1zM28 831h1v2h-1zM29 829h1v2h-1zM30 827h1v2h-1zM31 825h1v2h-1zM32 823h1v2h-1zM33 821h1v2h-1zM34 819h1v2h-1zM35 817h1v2h-1zM36 816h1v1h-1zM37 815h1v1h-1zM38 814h1v1h-1zM39 813h1v1h-1zM40 812h1v1h-1zM41 811h1v1h-1zM42 810h1v1h-1zM43 809h2v1h-2zM45 810h2v1h-2zM47 811h3v1h-3zM50 812h6v1h-6zM56 811h5v1h-5zM61 810h3v1h-3zM64 809h2v1h-2zM66 808h3v1h-3zM69 809h2v1h-2zM71 810h3v1h-3zM74 811h2v1h-2zM76 812h1v1h-1zM77 813h1v2h-1zM78 815h1v1h-1zM79 816h1v1h-1zM80 817h1v1h-1zM81 818h1v2h-1zM82 820h1v1h-1zM83 821h1v1h-1zM84 820h2v1h-2zM86 819h1v1h-1zM87 818h1v1h-1zM88 817h2v1h-2zM90 816h1v1h-1zM91 815h1v1h-1zM92 816h2v1h-2zM94 817h2v1h-2zM96 818h2v1h-2zM98 819h4v1h-4zM102 818h4v1h-4zM106 817h2v1h-2zM108 818h1v1h-1zM109 819h1v1h-1zM110 820h1v1h-1zM111 821h1v1h-1zM112 822h1v1h-1zM113 823h1v1h-1zM114 824h1v1h-1zM115 825h1v1h-1zM116 824h1v1h-1zM117 823h1v1h-1zM118 822h1v1h-1zM119 821h1v1h-1zM120 820h1v1h-1zM121 819h1v1h-1zM122 818h1v1h-1zM123 817h1v1h-1zM124 816h1v1h-1zM125 815h1v1h-1zM126 814h1v1h-1zM127 813h1v1h-1zM128 812h1v1h-1zM129 811h1v1h-1zM130 810h1v1h-1zM131 809h2v1h-2zM133 808h3v1h-3zM136 807h2v1h-2zM138 806h5v1h-5zM143 807h5v1h-5zM148 808h2v1h-2zM150 809h2v1h-2zM152 810h2v1h-2zM154 811h2v1h-2zM156 810h1v1h-1zM157 809h1v1h-1zM158 808h1v1h-1zM159 807h1v1h-1zM160 806h1v1h-1zM161 805h1v1h-1zM162 804h1v1h-1zM163 803h1v1h-1zM164 804h1v2h-1zM165 806h1v1h-1zM166 807h1v1h-1zM167 808h1v2h-1zM168 810h1v1h-1zM169 811h1v1h-1zM170 812h1v2h-1zM171 814h1v2h-1zM172 816h1v2h-1zM173 818h1v2h-1zM174 820h1v3h-1zM175 823h1v2h-1zM176 825h1v3h-1zM177 828h1v2h-1zM178 830h1v2h-1zM179 832h1v3h-1zM180 835h1v2h-1zM181 837h1v2h-1zM182 839h1v2h-1zM183 841h1v2h-1zM184 843h1v2h-1zM185 845h1v2h-1zM186 847h1v2h-1zM187 849h3v1h-3zM187 850h1v1h-1zM190 848h2v1h-2zM192 847h1v1h-1zM193 846h2v1h-2zM195 845h2v1h-2zM197 844h3v1h-3zM200 843h2v1h-2zM202 842h3v1h-3zM205 843h4v1h-4zM209 844h3v1h-3zM212 845h1v1h-1zM213 846h1v2h-1zM214 848h1v1h-1zM215 849h1v1h-1zM216 850h1v1h-1zM217 851h1v2h-1zM218 853h1v1h-1zM219 854h2v1h-2zM221 855h2v1h-2zM223 856h3v1h-3zM226 857h11v1h-11zM237 858h4v1h-4zM241 859h4v1h-4zM245 858h2v1h-2zM247 857h2v1h-2zM249 856h2v1h-2zM251 855h1v1h-1zM252 854h1v1h-1zM253 853h1v1h-1zM254 852h1v1h-1zM255 850h1v2h-1zM256 849h1v1h-1zM257 848h1v1h-1zM258 847h1v1h-1zM259 846h1v1h-1zM260 847h2v1h-2zM262 848h1v1h-1zM263 849h2v1h-2zM265 850h2v1h-2zM267 851h1v1h-1zM268 850h1v1h-1zM269 849h1v1h-1zM270 848h2v1h-2zM272 847h1v1h-1zM273 846h1v1h-1zM274 845h1v1h-1zM275 844h1v1h-1zM276 845h1v1h-1zM277 846h1v2h-1zM278 848h1v1h-1zM279 849h1v1h-1zM280 850h1v1h-1zM281 851h1v2h-1zM282 853h1v1h-1zM283 854h1v1h-1zM284 855h2v1h-2zM286 856h1v1h-1zM287 857h2v1h-2zM289 858h2v1h-2zM291 859h1v1h-1zM292 858h2v1h-2zM294 857h1v1h-1zM295 856h1v1h-1zM296 855h2v1h-2zM298 854h1v1h-1zM299 853h1v1h-1zM300 854h1v2h-1zM301 856h1v1h-1zM302 857h1v1h-1zM303 858h1v2h-1zM304 860h1v1h-1zM305 861h1v1h-1zM306 862h1v2h-1zM307 864h1v1h-1zM308 863h1v1h-1zM309 862h1v1h-1zM310 861h2v1h-2zM312 860h1v1h-1zM313 859h1v1h-1zM314 858h1v1h-1zM315 856h1v2h-1zM316 854h1v2h-1zM317 852h1v2h-1zM318 849h1v3h-1zM319 847h1v2h-1zM320 844h1v3h-1zM321 842h1v2h-1zM322 840h1v2h-1zM323 838h5v1h-5zM323 839h1v1h-1zM328 837h5v1h-5zM333 838h4v1h-4zM337 839h7v1h-7zM344 838h4v1h-4zM348 839h2v1h-2zM350 840h1v1h-1zM351 841h2v1h-2zM353 842h2v1h-2zM355 843h1v1h-1zM356 842h1v1h-1zM357 840h1v2h-1zM358 839h1v1h-1zM359 838h1v1h-1zM360 837h1v1h-1zM361 835h1v2h-1zM362 834h1v1h-1zM363 833h1v1h-1zM364 832h1v1h-1zM365 831h1v1h-1zM366 830h1v1h-1zM367 829h1v1h-1zM368 828h1v1h-1zM369 827h1v1h-1zM370 826h1v1h-1zM371 825h1v1h-1zM372 826h1v1h-1zM373 827h2v1h-2zM375 828h1v1h-1zM376 829h1v1h-1zM377 830h2v1h-2zM379 831h3v1h-3zM382 830h4v1h-4zM386 829h11v1h-11zM397 828h2v1h-2zM399 827h2v1h-2zM401 826h2v1h-2zM403 825h5v1h-5zM408 824h4v1h-4zM412 823h1v1h-1zM413 822h1v1h-1zM414 821h2v1h-2zM416 820h1v1h-1zM417 819h1v1h-1zM418 818h1v1h-1zM419 817h1v1h-1zM420 816h1v1h-1zM421 815h1v1h-1zM422 814h1v1h-1zM423 812h1v2h-1zM424 811h1v1h-1zM425 810h1v1h-1zM426 809h1v1h-1zM427 808h1v1h-1zM428 809h2v1h-2zM430 810h2v1h-2zM432 811h2v1h-2zM434 812h4v1h-4zM438 811h4v1h-4zM442 810h6v1h-6zM448 809h4v1h-4zM451 810h1v1h-1zM452 811h1v2h-1zM453 813h1v2h-1zM454 815h1v3h-1zM455 818h1v2h-1zM456 820h1v3h-1zM457 823h1v2h-1zM458 825h1v2h-1zM459 827h1v2h-1zM460 829h1v1h-1zM461 830h1v1h-1zM462 831h1v1h-1zM463 832h1v2h-1zM464 834h1v1h-1zM465 835h1v1h-1zM466 836h1v1h-1zM467 837h2v1h-2zM469 838h2v1h-2zM471 839h3v1h-3zM474 840h2v1h-2zM476 839h1v1h-1zM477 838h1v1h-1zM478 837h1v1h-1zM479 835h1v2h-1zM480 834h1v1h-1zM481 833h1v1h-1zM482 832h1v1h-1zM483 831h3v1h-3zM486 830h4v1h-4zM490 829h3v1h-3zM493 830h2v1h-2zM495 831h3v1h-3zM498 832h2v1h-2zM500 833h1v1h-1zM501 834h2v1h-2zM503 835h1v1h-1zM504 836h1v1h-1zM505 837h2v1h-2zM507 838h1v1h-1zM508 837h1v1h-1zM509 835h1v2h-1zM510 834h1v1h-1zM511 833h1v1h-1zM512 832h1v1h-1zM513 830h1v2h-1zM514 829h1v1h-1zM515 828h1v1h-1zM516 826h1v2h-1zM517 825h1v1h-1zM518 824h1v1h-1zM519 822h1v2h-1zM520 821h1v1h-1zM521 820h1v1h-1zM522 818h1v2h-1zM523 817h4v1h-4zM527 818h7v1h-7zM534 817h4v1h-4zM538 816h3v1h-3zM541 815h3v1h-3zM544 814h2v1h-2zM546 813h5v1h-5zM551 814h7v1h-7zM558 813h4v1h-4zM562 812h2v1h-2zM564 810h1v2h-1zM565 809h1v1h-1zM566 807h1v2h-1zM567 806h1v1h-1zM568 804h1v2h-1zM569 803h1v1h-1zM570 801h1v2h-1zM571 800h2v1h-2zM573 801h4v1h-4zM577 802h7v1h-7zM584 801h4v1h-4zM588 799h1v2h-1zM589 798h1v1h-1zM590 796h1v2h-1zM591 795h1v1h-1zM592 793h1v2h-1zM593 792h1v1h-1zM594 790h1v2h-1zM595 789h2v1h-2zM597 788h3v1h-3zM600 787h2v1h-2zM602 786h5v1h-5zM607 787h5v1h-5zM612 786h2v1h-2zM614 785h1v1h-1zM615 784h1v1h-1zM616 783h2v1h-2zM618 782h2v1h-2zM619 781h1v1h-1zM620 783h1v2h-1zM621 785h1v2h-1zM622 787h1v2h-1zM623 789h1v3h-1zM624 792h1v2h-1zM625 794h1v2h-1zM626 796h1v2h-1zM627 798h1v1h-1zM627 799h5v1h-5zM632 798h5v1h-5zM637 799h4v1h-4zM641 800h3v1h-3zM644 801h2v1h-2zM646 802h1v1h-1zM647 803h2v1h-2zM649 804h2v1h-2zM651 805h1v1h-1zM652 804h1v1h-1zM653 803h1v1h-1zM654 802h1v1h-1zM655 800h1v2h-1zM656 799h1v1h-1zM657 798h1v1h-1zM658 797h1v1h-1zM659 796h3v1h-3zM662 795h4v1h-4zM666 794h2v1h-2zM668 795h1v1h-1zM669 796h1v2h-1zM670 798h1v1h-1zM671 799h1v1h-1zM672 800h1v1h-1zM673 801h1v2h-1zM674 803h1v1h-1zM675 804h1v1h-1zM676 805h1v1h-1zM677 806h1v1h-1zM678 807h1v1h-1zM679 808h1v2h-1zM680 810h1v1h-1zM681 811h1v1h-1zM682 812h1v1h-1zM683 813h1v1h-1zM684 812h2v1h-2zM686 811h1v1h-1zM687 810h1v1h-1zM688 809h2v1h-2zM690 808h1v1h-1zM691 807h2v1h-2zM693 806h3v1h-3zM696 805h2v1h-2zM698 804h5v1h-5zM703 805h6v1h-6zM709 804h3v1h-3zM712 803h2v1h-2zM714 802h2v1h-2zM716 803h2v1h-2zM718 804h2v1h-2zM720 805h2v1h-2zM722 806h4v1h-4zM726 805h4v1h-4zM730 804h2v1h-2zM732 803h2v1h-2zM734 802h1v1h-1zM735 801h1v1h-1zM736 800h2v1h-2zM738 799h1v1h-1zM739 798h5v1h-5zM744 797h5v1h-5zM749 796h2v1h-2zM751 795h2v1h-2zM753 794h2v1h-2zM755 793h1v1h-1zM756 794h1v1h-1zM757 795h1v1h-1zM758 796h1v1h-1zM759 797h2v1h-2zM761 798h1v1h-1zM762 799h1v1h-1zM763 800h2v1h-2zM765 801h4v1h-4zM769 802h4v1h-4zM773 801h2v1h-2zM775 800h2v1h-2zM777 799h2v1h-2zM779 798h1v1h-1zM780 797h2v1h-2zM782 796h2v1h-2zM784 795h1v1h-1zM785 794h2v1h-2zM787 793h1v1h-1zM788 792h1v1h-1zM789 791h1v1h-1zM790 790h2v1h-2zM792 789h1v1h-1zM793 788h1v1h-1zM794 787h1v1h-1zM795 786h1v1h-1zM796 785h2v1h-2zM798 784h1v1h-1zM799 783h1v1h-1zM800 782h2v1h-2zM802 781h1v1h-1zM803 780h9v1h-9zM812 781h1v1h-1zM813 782h2v1h-2zM815 783h1v1h-1zM816 784h1v1h-1zM817 785h2v1h-2zM819 786h3v1h-3zM822 785h4v1h-4zM826 784h2v1h-2zM828 785h1v2h-1zM829 787h1v1h-1zM830 788h1v1h-1zM831 789h1v2h-1zM832 791h1v1h-1zM833 792h1v1h-1zM834 793h1v2h-1zM835 795h5v1h-5zM840 794h7v1h-7zM847 795h5v1h-5zM852 796h1v2h-1zM853 798h1v1h-1zM854 799h1v2h-1zM855 801h1v1h-1zM856 802h1v2h-1zM857 804h1v1h-1zM858 805h1v2h-1zM859 807h2v1h-2zM861 806h3v1h-3zM864 805h2v1h-2zM866 804h12v1h-12zM878 803h4v1h-4zM882 802h10v1h-10zM892 800h1v2h-1zM893 799h1v1h-1zM894 797h1v2h-1zM895 796h1v1h-1zM896 794h1v2h-1zM897 793h1v1h-1zM898 791h1v2h-1zM899 790h1v1h-1zM900 791h2v1h-2zM902 792h1v1h-1zM903 793h2v1h-2zM905 794h2v1h-2zM907 795h1v1h-1zM908 796h2v1h-2zM910 797h2v1h-2zM912 798h2v1h-2zM914 799h2v1h-2zM916 798h2v1h-2zM918 797h2v1h-2zM920 796h1v1h-1zM921 795h2v1h-2zM923 794h3v1h-3zM926 793h4v1h-4zM930 792h2v1h-2zM931 793h1v1h-1zM932 794h1v3h-1zM933 797h1v3h-1zM934 800h1v3h-1zM935 803h1v3h-1zM936 806h1v3h-1zM937 809h1v3h-1zM938 812h1v3h-1zM939 815h1v2h-1zM940 817h1v1h-1zM941 818h1v1h-1zM942 819h1v1h-1zM943 820h1v2h-1zM944 822h1v1h-1zM945 823h1v1h-1zM946 824h1v1h-1zM947 825h1v1h-1zM948 823h1v2h-1zM949 821h1v2h-1zM950 820h1v1h-1zM951 818h1v2h-1zM952 817h1v1h-1zM953 815h1v2h-1zM954 813h1v2h-1zM955 812h5v1h-5zM960 811h6v1h-6zM966 810h4v1h-4zM970 809h2v1h-2zM972 810h2v1h-2zM974 811h2v1h-2zM976 812h2v1h-2zM978 813h2v1h-2zM980 814h1v1h-1zM981 815h1v2h-1zM982 817h1v1h-1zM983 818h1v1h-1zM984 819h1v1h-1zM985 820h1v2h-1zM986 822h1v1h-1zM987 823h9v1h-9zM996 824h1v2h-1zM997 826h1v2h-1zM998 828h1v2h-1zM999 830h1v2h-1zM1000 832h1v2h-1zM1001 834h1v2h-1zM1002 836h1v2h-1zM1003 838h1v1h-1zM1003 839h2v1h-2zM1005 838h3v1h-3zM1008 837h2v1h-2zM1010 836h2v1h-2zM1012 837h2v1h-2zM1014 838h1v1h-1zM1015 839h2v1h-2zM1017 840h2v1h-2zM1019 841h1v1h-1zM1020 840h1v1h-1zM1021 839h1v1h-1zM1022 838h1v1h-1zM1023 836h1v2h-1zM1024 835h1v1h-1zM1025 834h1v1h-1zM1026 833h1v1h-1zM1027 832h1v1h-1zM1028 833h1v2h-1zM1029 835h1v1h-1zM1030 836h1v1h-1zM1031 837h1v2h-1zM1032 839h1v1h-1zM1033 840h1v1h-1zM1034 841h1v2h-1zM1035 843h5v1h-5zM1040 842h4v1h-4zM1043 843h1v1h-1zM1044 844h1v2h-1zM1045 846h1v2h-1zM1046 848h1v2h-1zM1047 850h1v3h-1zM1048 853h1v2h-1zM1049 855h1v2h-1zM1050 857h1v2h-1zM1051 859h1v1h-1zM1051 860h9v1h-9zM1060 858h1v2h-1zM1061 857h1v1h-1zM1062 856h1v1h-1zM1063 854h1v2h-1zM1064 853h1v1h-1zM1065 852h1v1h-1zM1066 850h1v2h-1zM1067 849h2v1h-2zM1069 848h2v1h-2zM1071 847h2v1h-2zM1073 846h2v1h-2zM1075 845h3v1h-3zM1078 844h4v1h-4zM1082 843h2v1h-2zM1084 844h1v1h-1zM1085 845h1v1h-1zM1086 846h1v1h-1zM1087 847h2v1h-2zM1089 848h1v1h-1zM1090 849h1v1h-1zM1091 850h1v1h-1zM1092 849h2v1h-2zM1094 848h1v1h-1zM1095 847h1v1h-1zM1096 846h2v1h-2zM1098 845h1v1h-1zM1099 844h2v1h-2zM1101 845h4v1h-4zM1105 846h5v1h-5zM1110 845h4v1h-4zM1114 844h2v1h-2zM1116 843h2v1h-2zM1118 842h1v1h-1zM1119 841h1v1h-1zM1120 840h2v1h-2zM1122 839h1v1h-1zM1123 838h1v1h-1zM1124 837h1v1h-1zM1125 836h1v1h-1zM1126 835h2v1h-2zM1128 834h1v1h-1zM1129 833h1v1h-1zM1130 832h1v1h-1zM1131 831h1v1h-1zM1132 830h1v1h-1zM1133 829h1v1h-1zM1134 828h2v1h-2zM1136 827h1v1h-1zM1137 826h1v1h-1zM1138 825h1v1h-1zM1139 824h2v1h-2zM1141 825h2v1h-2zM1143 826h3v1h-3zM1146 827h2v1h-2zM1148 828h1v1h-1zM1149 829h2v1h-2zM1151 830h1v1h-1zM1152 831h1v1h-1zM1153 832h2v1h-2zM1155 833h2v1h-2zM1157 832h3v1h-3zM1160 831h2v1h-2zM1162 830h2v1h-2zM1164 831h1v1h-1zM1165 832h2v1h-2zM1167 833h1v1h-1zM1168 834h1v1h-1zM1169 835h2v1h-2zM1171 836h1v1h-1zM1172 837h1v2h-1zM1173 839h1v2h-1zM1174 841h1v2h-1zM1175 843h1v2h-1zM1176 845h1v2h-1zM1177 847h1v2h-1zM1178 849h1v2h-1zM1179 851h1v2h-1zM1180 853h1v1h-1zM1181 854h2v1h-2zM1183 855h1v1h-1zM1184 856h1v1h-1zM1185 857h2v1h-2zM1187 858h1v1h-1zM1188 857h2v1h-2zM1190 856h1v1h-1zM1191 855h1v1h-1zM1192 854h2v1h-2zM1194 853h1v1h-1zM1195 852h2v1h-2zM1197 851h3v1h-3zM1200 850h2v1h-2zM1202 849h3v1h-3zM1205 850h2v1h-2zM1207 851h3v1h-3zM1210 852h5v1h-5zM1215 853h6v1h-6zM1221 852h2v1h-2zM1223 851h2v1h-2zM1225 850h2v1h-2zM1227 849h2v1h-2zM1229 850h2v1h-2zM1231 851h3v1h-3zM1234 852h2v1h-2zM1236 850h1v2h-1zM1237 849h1v1h-1zM1238 848h1v1h-1zM1239 846h1v2h-1zM1240 845h1v1h-1zM1241 844h1v1h-1zM1242 842h1v2h-1zM1243 841h2v1h-2zM1245 840h3v1h-3zM1248 839h2v1h-2zM1250 838h2v1h-2zM1252 837h2v1h-2zM1254 836h2v1h-2zM1256 835h1v1h-1zM1257 834h2v1h-2zM1259 833h2v1h-2zM1261 834h4v1h-4zM1265 835h4v1h-4zM1269 836h4v1h-4zM1273 837h3v1h-3zM1276 835h1v2h-1zM1277 834h1v1h-1zM1278 832h1v2h-1zM1279 831h1v1h-1zM1280 829h1v2h-1zM1281 828h1v1h-1zM1282 826h2v1h-2zM1282 827h1v1h-1zM1283 825h1v1h-1zM1284 827h1v4h-1zM1285 831h1v3h-1zM1286 834h1v3h-1zM1287 837h1v4h-1zM1288 841h1v3h-1zM1289 844h1v3h-1zM1290 847h1v4h-1zM1291 851h1v2h-1zM1292 853h2v1h-2zM1294 854h2v1h-2zM1296 855h2v1h-2zM1298 856h2v1h-2zM1300 854h1v2h-1zM1301 853h1v1h-1zM1302 852h1v1h-1zM1303 850h1v2h-1zM1304 849h1v1h-1zM1305 848h1v1h-1zM1306 846h1v2h-1zM1307 845h4v1h-4zM1311 846h8v1h-8zM1319 847h9v1h-9zM1328 846h7v1h-7zM1335 847h5v1h-5zM1340 848h1v2h-1zM1341 850h1v1h-1zM1342 851h1v1h-1zM1343 852h1v2h-1zM1344 854h1v1h-1zM1345 855h1v1h-1zM1346 856h1v2h-1zM1347 858h9v1h-9zM1356 859h2v1h-2zM1358 860h1v1h-1zM1359 861h2v1h-2zM1361 862h2v1h-2zM1363 863h1v1h-1zM1364 864h1v1h-1zM1365 865h1v1h-1zM1366 866h1v1h-1zM1367 867h2v1h-2zM1369 868h1v1h-1zM1370 869h1v1h-1zM1371 870h2v1h-2zM1373 871h4v1h-4zM1377 872h3v1h-3zM1380 873h2v1h-2zM1382 874h1v1h-1zM1383 875h2v1h-2zM1385 876h2v1h-2zM1387 877h1v1h-1zM1388 875h1v2h-1zM1389 874h1v1h-1zM1390 872h1v2h-1zM1391 871h1v1h-1zM1392 869h1v2h-1zM1393 868h1v1h-1zM1394 866h1v2h-1zM1395 865h3v1h-3zM1398 864h4v1h-4zM1402 863h2v1h-2z"/></g><line x1="1292" y1="836" x2="1396.4" y2="867.6" stroke="#ff0000" stroke-width="3.2"/><polygon fill="#ff0000" points="1406,870.5 1393.1,871.8 1396,862.2"/><rect x="0" y="23" width="1647" height="1" fill="#000"/><rect x="0" y="576" width="1647" height="1" fill="#000"/><rect x="0" y="578" width="1647" height="1" fill="#000"/><rect x="0" y="748" width="1647" height="1" fill="#000"/><rect x="0" y="750" width="1647" height="1" fill="#000"/><rect x="0" y="924" width="1647" height="1" fill="#000"/><rect x="1646" y="23" width="1" height="554" fill="#000"/><rect x="1646" y="578" width="1" height="171" fill="#000"/><rect x="1646" y="750" width="1" height="175" fill="#000"/><rect x="1647" y="45" width="2" height="1" fill="#000"/><text x="1652.5" y="49" font-size="9.9" fill="#000" textLength="32.5" lengthAdjust="spacingAndGlyphs" >158.295</text><rect x="1647" y="78" width="2" height="1" fill="#000"/><text x="1652.5" y="82" font-size="9.9" fill="#000" textLength="32.5" lengthAdjust="spacingAndGlyphs" >157.725</text><rect x="1647" y="111" width="2" height="1" fill="#000"/><text x="1652.5" y="115" font-size="9.9" fill="#000" textLength="32.5" lengthAdjust="spacingAndGlyphs" >157.140</text><rect x="1647" y="144" width="2" height="1" fill="#000"/><text x="1652.5" y="148" font-size="9.9" fill="#000" textLength="32.5" lengthAdjust="spacingAndGlyphs" >156.555</text><rect x="1647" y="177" width="2" height="1" fill="#000"/><text x="1652.5" y="181" font-size="9.9" fill="#000" textLength="32.5" lengthAdjust="spacingAndGlyphs" >155.970</text><rect x="1647" y="210" width="2" height="1" fill="#000"/><text x="1652.5" y="214" font-size="9.9" fill="#000" textLength="32.5" lengthAdjust="spacingAndGlyphs" >155.400</text><rect x="1647" y="243" width="2" height="1" fill="#000"/><text x="1652.5" y="247" font-size="9.9" fill="#000" textLength="32.5" lengthAdjust="spacingAndGlyphs" >154.815</text><rect x="1647" y="276" width="2" height="1" fill="#000"/><text x="1652.5" y="280" font-size="9.9" fill="#000" textLength="32.5" lengthAdjust="spacingAndGlyphs" >154.230</text><rect x="1647" y="309" width="2" height="1" fill="#000"/><text x="1652.5" y="313" font-size="9.9" fill="#000" textLength="32.5" lengthAdjust="spacingAndGlyphs" >153.660</text><rect x="1647" y="342" width="2" height="1" fill="#000"/><text x="1652.5" y="346" font-size="9.9" fill="#000" textLength="32.5" lengthAdjust="spacingAndGlyphs" >153.075</text><rect x="1647" y="375" width="2" height="1" fill="#000"/><text x="1652.5" y="379" font-size="9.9" fill="#000" textLength="32.5" lengthAdjust="spacingAndGlyphs" >152.505</text><rect x="1647" y="408" width="2" height="1" fill="#000"/><text x="1652.5" y="412" font-size="9.9" fill="#000" textLength="32.5" lengthAdjust="spacingAndGlyphs" >151.920</text><rect x="1647" y="441" width="2" height="1" fill="#000"/><text x="1652.5" y="445" font-size="9.9" fill="#000" textLength="32.5" lengthAdjust="spacingAndGlyphs" >151.335</text><rect x="1647" y="474" width="2" height="1" fill="#000"/><text x="1652.5" y="478" font-size="9.9" fill="#000" textLength="32.5" lengthAdjust="spacingAndGlyphs" >150.765</text><rect x="1647" y="507" width="2" height="1" fill="#000"/><text x="1652.5" y="511" font-size="9.9" fill="#000" textLength="32.5" lengthAdjust="spacingAndGlyphs" >150.180</text><rect x="1647" y="540" width="2" height="1" fill="#000"/><text x="1652.5" y="544" font-size="9.9" fill="#000" textLength="32.5" lengthAdjust="spacingAndGlyphs" >149.595</text><rect x="1647" y="573" width="2" height="1" fill="#000"/><text x="1652.5" y="577" font-size="9.9" fill="#000" textLength="32.5" lengthAdjust="spacingAndGlyphs" >149.025</text><rect x="1648" y="171" width="41" height="11" fill="#ff0000"/><text x="1652.5" y="180.4" font-size="9.9" fill="#fff" textLength="32.5" lengthAdjust="spacingAndGlyphs" >155.977</text><rect x="1648" y="192" width="41" height="11" fill="#ff0000"/><text x="1652.5" y="201.4" font-size="9.9" fill="#fff" textLength="32.5" lengthAdjust="spacingAndGlyphs" >155.609</text><rect x="1648" y="217" width="41" height="11" fill="#000"/><text x="1652.5" y="225.7" font-size="9.9" fill="#fff" textLength="32.5" lengthAdjust="spacingAndGlyphs" >155.188</text><rect x="1648" y="209" width="41" height="11" fill="#32cd32"/><text x="1652.5" y="218.4" font-size="9.9" fill="#fff" textLength="32.5" lengthAdjust="spacingAndGlyphs" >155.311</text><rect x="1648" y="247" width="41" height="11" fill="#0000ff"/><text x="1652.5" y="256.4" font-size="9.9" fill="#fff" textLength="32.5" lengthAdjust="spacingAndGlyphs" >154.644</text><rect x="1648" y="273" width="41" height="11" fill="#0000ff"/><text x="1652.5" y="282.4" font-size="9.9" fill="#fff" textLength="32.5" lengthAdjust="spacingAndGlyphs" >154.188</text><rect x="1647" y="580" width="1" height="1" fill="#000"/><text x="1650.5" y="589.3" font-size="9.9" fill="#000" textLength="27.4" lengthAdjust="spacingAndGlyphs" >1.0312</text><rect x="1647" y="684" width="1" height="1" fill="#000"/><text x="1650.2" y="687.6" font-size="9.9" fill="#000" textLength="17.6" lengthAdjust="spacingAndGlyphs" >0.00</text><rect x="1647" y="747" width="1" height="1" fill="#000"/><text x="1649.8" y="745" font-size="9.9" fill="#000" textLength="31.2" lengthAdjust="spacingAndGlyphs" >-0.6304</text><rect x="1647" y="751" width="1" height="1" fill="#000"/><text x="1650" y="761" font-size="9.9" fill="#000" textLength="15" lengthAdjust="spacingAndGlyphs" >100</text><text x="1649.5" y="790" font-size="9.9" fill="#000" textLength="9.6" lengthAdjust="spacingAndGlyphs" >80</text><text x="1649.5" y="841" font-size="9.9" fill="#000" textLength="9.6" lengthAdjust="spacingAndGlyphs" >50</text><text x="1649.5" y="901.7" font-size="9.9" fill="#000" textLength="9.6" lengthAdjust="spacingAndGlyphs" >15</text><text x="1650" y="921" font-size="9.9" fill="#000" textLength="5" lengthAdjust="spacingAndGlyphs" >0</text><rect x="1647" y="923" width="1" height="1" fill="#000"/><text x="2" y="35" font-size="9.9" fill="#000" textLength="200" lengthAdjust="spacingAndGlyphs" >GBPJPY-,H4&#160;&#160;155.144 155.190 155.065 155.188</text><text x="-8.5" y="591.2" font-size="9.9" fill="#000" textLength="133.5" lengthAdjust="spacingAndGlyphs" >MACD(12,26,9) -0.3857 -0.2711</text><text x="-8" y="763.2" font-size="9.9" fill="#000" textLength="66.5" lengthAdjust="spacingAndGlyphs" >RSI(14) 35.3316</text><text x="-14" y="937" font-size="9.9" fill="#000" textLength="52.3" lengthAdjust="spacingAndGlyphs" >22 Sep 2021</text><rect x="51" y="925" width="1" height="3" fill="#000"/><text x="50" y="937" font-size="9.9" fill="#000" textLength="54.9" lengthAdjust="spacingAndGlyphs" >23 Sep 16:00</text><rect x="115" y="925" width="1" height="3" fill="#000"/><text x="114" y="937" font-size="9.9" fill="#000" textLength="54.9" lengthAdjust="spacingAndGlyphs" >27 Sep 00:00</text><rect x="179" y="925" width="1" height="3" fill="#000"/><text x="178" y="937" font-size="9.9" fill="#000" textLength="54.9" lengthAdjust="spacingAndGlyphs" >28 Sep 08:00</text><rect x="243" y="925" width="1" height="3" fill="#000"/><text x="242" y="937" font-size="9.9" fill="#000" textLength="54.9" lengthAdjust="spacingAndGlyphs" >29 Sep 16:00</text><rect x="307" y="925" width="1" height="3" fill="#000"/><text x="306" y="937" font-size="9.9" fill="#000" textLength="47.7" lengthAdjust="spacingAndGlyphs" >1 Oct 00:00</text><rect x="371" y="925" width="1" height="3" fill="#000"/><text x="370" y="937" font-size="9.9" fill="#000" textLength="47.7" lengthAdjust="spacingAndGlyphs" >4 Oct 08:00</text><rect x="435" y="925" width="1" height="3" fill="#000"/><text x="434" y="937" font-size="9.9" fill="#000" textLength="47.7" lengthAdjust="spacingAndGlyphs" >5 Oct 16:00</text><rect x="499" y="925" width="1" height="3" fill="#000"/><text x="498" y="937" font-size="9.9" fill="#000" textLength="47.7" lengthAdjust="spacingAndGlyphs" >7 Oct 00:00</text><rect x="563" y="925" width="1" height="3" fill="#000"/><text x="562" y="937" font-size="9.9" fill="#000" textLength="47.7" lengthAdjust="spacingAndGlyphs" >8 Oct 08:00</text><rect x="627" y="925" width="1" height="3" fill="#000"/><text x="626" y="937" font-size="9.9" fill="#000" textLength="52.1" lengthAdjust="spacingAndGlyphs" >11 Oct 16:00</text><rect x="691" y="925" width="1" height="3" fill="#000"/><text x="690" y="937" font-size="9.9" fill="#000" textLength="52.8" lengthAdjust="spacingAndGlyphs" >13 Oct 00:00</text><rect x="755" y="925" width="1" height="3" fill="#000"/><text x="754" y="937" font-size="9.9" fill="#000" textLength="52.8" lengthAdjust="spacingAndGlyphs" >14 Oct 08:00</text><rect x="819" y="925" width="1" height="3" fill="#000"/><text x="818" y="937" font-size="9.9" fill="#000" textLength="52.8" lengthAdjust="spacingAndGlyphs" >15 Oct 16:00</text><rect x="883" y="925" width="1" height="3" fill="#000"/><text x="882" y="937" font-size="9.9" fill="#000" textLength="52.8" lengthAdjust="spacingAndGlyphs" >19 Oct 00:00</text><rect x="947" y="925" width="1" height="3" fill="#000"/><text x="946" y="937" font-size="9.9" fill="#000" textLength="52.8" lengthAdjust="spacingAndGlyphs" >20 Oct 08:00</text><rect x="1011" y="925" width="1" height="3" fill="#000"/><text x="1010" y="937" font-size="9.9" fill="#000" textLength="52.8" lengthAdjust="spacingAndGlyphs" >21 Oct 16:00</text><rect x="1075" y="925" width="1" height="3" fill="#000"/><text x="1074" y="937" font-size="9.9" fill="#000" textLength="52.8" lengthAdjust="spacingAndGlyphs" >25 Oct 00:00</text><rect x="1139" y="925" width="1" height="3" fill="#000"/><text x="1138" y="937" font-size="9.9" fill="#000" textLength="52.8" lengthAdjust="spacingAndGlyphs" >26 Oct 08:00</text><rect x="1203" y="925" width="1" height="3" fill="#000"/><text x="1202" y="937" font-size="9.9" fill="#000" textLength="52.8" lengthAdjust="spacingAndGlyphs" >27 Oct 16:00</text><rect x="1267" y="925" width="1" height="3" fill="#000"/><text x="1266" y="937" font-size="9.9" fill="#000" textLength="52.8" lengthAdjust="spacingAndGlyphs" >29 Oct 00:00</text><rect x="1331" y="925" width="1" height="3" fill="#000"/><text x="1330" y="937" font-size="9.9" fill="#000" textLength="49.8" lengthAdjust="spacingAndGlyphs" >1 Nov 08:00</text><rect x="1395" y="925" width="1" height="3" fill="#000"/><text x="1394" y="937" font-size="9.9" fill="#000" textLength="49.8" lengthAdjust="spacingAndGlyphs" >2 Nov 16:00</text>
<rect x="1692" y="21" width="1" height="921" fill="#dcdcdc"/>
<g shape-rendering="geometricPrecision">
<rect x="0" y="0" width="1693" height="18" fill="#f0f0f0"/>
<rect x="0" y="18" width="1693" height="1" fill="#f6f6f6"/>
<rect x="0" y="19" width="1693" height="1" fill="#a0a0a0"/>
<rect x="0" y="20" width="1693" height="1" fill="#696969"/>
<rect x="7" y="0" width="1" height="16" fill="#a0a0a0"/>
<path d="M17.5 -1V11.5H26" fill="none" stroke="#8a8a8a"/>
<path d="M18 -1H25L28 2V11H18Z" fill="#fff" stroke="#9a9a9a" stroke-width="0.8"/>
<path d="M20 1.5H22M20 4.5H25M20 7.5H24" stroke="#9a9a9a" stroke-width="1"/>
<path d="M25.7 5.4H29.099999999999998V9.3H33.0V12.7H29.099999999999998V16.6H25.7V12.7H21.799999999999997V9.3H25.7Z" fill="#28d028" stroke="#0a8a0a" stroke-width="1"/>
<path d="M26.599999999999998 6.4V10.200000000000001H22.799999999999997" stroke="#90f090" stroke-width="0.9" fill="none"/>
<text x="35.5" y="9.9" font-size="12" fill="#000" style="font-family:'Liberation Sans','Noto Sans CJK SC',sans-serif">新订单</text>
<defs><linearGradient id="gold" x1="0" y1="0" x2="1" y2="1"><stop offset="0" stop-color="#f2c63a"/><stop offset="0.45" stop-color="#fbe680"/><stop offset="1" stop-color="#dc9c14"/></linearGradient></defs>
<polygon points="84.2,8.3 92.1,13.8 99.7,7.3 99.9,8.9 92.3,15.4 84.1,9.9" fill="#a87010"/>
<path d="M85 9.6L92.2 14.6L99.3 8.4" stroke="#e8c868" stroke-width="0.6" fill="none"/>
<polygon points="89.7,-0.6 99.7,7.3 92.1,13.8 84.2,8.3" fill="url(#gold)"/>
<path d="M90 -0.6Q88 5 84.3 8.3" stroke="#a8700e" stroke-width="1.4" fill="none"/>
<polygon points="114.4,-1 118,-1 118,8.5 114.4,7.5" fill="#52b0f6"/><rect x="118" y="-1" width="7" height="9.5" fill="#1c80e4"/><rect x="119.3" y="2.8" width="4.6" height="2" fill="#d8ecff"/>
<path d="M115.2 14.4a2.8 2.8 0 0 1 0.3-5.4a3.3 3.3 0 0 1 6.2-0.6a3 3 0 0 1 3.3 6Z" fill="#edf2fa" stroke="#5a7cb8" stroke-width="1"/>
<path d="M114.6 14.4H125.6" stroke="#4868a8" stroke-width="1"/>
<path d="M148.5 14.2A7.7 7.7 0 0 0 148.5 -1.2Z" fill="#8cc88c" opacity="0.55"/>
<path d="M148.5 14.2A7.7 7.7 0 0 0 148.5 -1.2" fill="none" stroke="#5aa85a" stroke-width="1.6" opacity="0.8"/>
<path d="M148 -1.2A7.7 7.7 0 0 0 148 14.2" fill="none" stroke="#7c9ce0" stroke-width="1.1"/><path d="M148 2A4.5 4.5 0 0 0 148 11" fill="none" stroke="#4a74d4" stroke-width="1.3"/><path d="M148.4 2A4.5 4.5 0 0 1 148.4 11" fill="none" stroke="#e8f4e8" stroke-width="1.2"/>
<circle cx="148" cy="6.5" r="1.9" fill="#2456cc"/><rect x="148" y="7" width="1.6" height="7.8" fill="#18a018"/>
<defs><linearGradient id="fun" x1="0" y1="0" x2="1" y2="1"><stop offset="0" stop-color="#fbe870"/><stop offset="1" stop-color="#e6b01c"/></linearGradient></defs>
<path d="M167.6 5.5Q175 9 183 5.5L176.2 14.3Q175.5 15 174.8 14.3Z" fill="url(#fun)" stroke="#c89818" stroke-width="0.6"/>
<ellipse cx="175.2" cy="4.4" rx="7.8" ry="2.6" fill="#5aaae4" stroke="#3a86cc" stroke-width="0.6"/><path d="M172 3.6L173 -1H177L178 3.6Q175 4.8 172 3.6Z" fill="#6ab6ec"/>
<circle cx="179.4" cy="10.4" r="4.3" fill="#dc2410"/><rect x="177.8" y="8.8" width="3.2" height="3.2" fill="#fff"/>
<text x="188.2" y="9.9" font-size="12" fill="#000" style="font-family:'Liberation Sans','Noto Sans CJK SC',sans-serif">自动交易</text>
<rect x="243" y="0" width="1" height="19" fill="#a0a0a0"/><rect x="244" y="0" width="1" height="19" fill="#fdfdfd"/>
<rect x="247" y="1" width="3" height="1" fill="#b4b4b4"/>
<rect x="247" y="3" width="3" height="1" fill="#b4b4b4"/>
<rect x="247" y="5" width="3" height="1" fill="#b4b4b4"/>
<rect x="247" y="7" width="3" height="1" fill="#b4b4b4"/>
<rect x="247" y="9" width="3" height="1" fill="#b4b4b4"/>
<rect x="247" y="11" width="3" height="1" fill="#b4b4b4"/>
<rect x="247" y="13" width="3" height="1" fill="#b4b4b4"/>
<rect x="247" y="15" width="3" height="1" fill="#b4b4b4"/>
<path d="M261.5 1V14.5M259.5 12.5H271" stroke="#505050" stroke-width="1" fill="none"/>
<polygon points="259.5,3 261.5,0.2 263.5,3" fill="#505050"/><polygon points="270.5,10.5 273.3,12.5 270.5,14.5" fill="#505050"/>
<path d="M268.5 3V10.5M268.5 3.5H271M266 9.5H268.5" stroke="#18a018" stroke-width="1.4" fill="none"/>
<rect x="281" y="0" width="1" height="16" fill="#a0a0a0"/>
<rect x="283" y="0" width="23" height="17" fill="#f8f8f8"/>
<path d="M289.5 1V14.5M287.5 12.5H299" stroke="#505050" stroke-width="1" fill="none"/>
<polygon points="287.5,3 289.5,0.2 291.5,3" fill="#505050"/><polygon points="298.5,10.5 301.3,12.5 298.5,14.5" fill="#505050"/>
<rect x="295" y="-1" width="1.2" height="11.5" fill="#0a900a"/><rect x="293.3" y="1.8" width="4.6" height="6.4" fill="#30d030" stroke="#0a900a" stroke-width="0.9"/>
<path d="M317.5 1V14.5M315.5 12.5H327" stroke="#505050" stroke-width="1" fill="none"/>
<polygon points="315.5,3 317.5,0.2 319.5,3" fill="#505050"/><polygon points="326.5,10.5 329.3,12.5 326.5,14.5" fill="#505050"/>
<path d="M316 10Q320 4 323 4.2T328.5 8.2" stroke="#30a030" stroke-width="1.3" fill="none"/>
<rect x="338" y="0" width="1" height="16" fill="#a0a0a0"/>
<path d="M356 9L362.5 14.2" stroke="#d8a820" stroke-width="3" stroke-linecap="round"/><path d="M356 9L362.5 14.2" stroke="#f8e070" stroke-width="1"/>
<circle cx="353" cy="5" r="5.6" fill="#d8ecfa" stroke="#3878c8" stroke-width="1.3"/>
<path d="M350 5H356" stroke="#3a86b8" stroke-width="1.8"/>
<path d="M353 2V8" stroke="#3a86b8" stroke-width="1.8"/>
<path d="M384 9L390.5 14.2" stroke="#d8a820" stroke-width="3" stroke-linecap="round"/><path d="M384 9L390.5 14.2" stroke="#f8e070" stroke-width="1"/>
<circle cx="381" cy="5" r="5.6" fill="#d8ecfa" stroke="#3878c8" stroke-width="1.3"/>
<path d="M378 5H384" stroke="#3a86b8" stroke-width="1.8"/>
<rect x="403" y="-1" width="7.8" height="7.6" fill="#40a020"/><rect x="404.2" y="2" width="5.4" height="3.6" fill="#f4f8ff"/><rect x="405.2" y="3" width="3.4" height="1" fill="#40a020" opacity="0.45"/>
<rect x="411.5" y="-1" width="7.8" height="7.6" fill="#2860d8"/><rect x="412.7" y="2" width="5.4" height="3.6" fill="#f4f8ff"/><rect x="413.7" y="3" width="3.4" height="1" fill="#2860d8" opacity="0.45"/>
<rect x="403" y="7.3" width="7.8" height="7.6" fill="#2860d8"/><rect x="404.2" y="10.3" width="5.4" height="3.6" fill="#f4f8ff"/><rect x="405.2" y="11.3" width="3.4" height="1" fill="#2860d8" opacity="0.45"/>
<rect x="411.5" y="7.3" width="7.8" height="7.6" fill="#40a020"/><rect x="412.7" y="10.3" width="5.4" height="3.6" fill="#f4f8ff"/><rect x="413.7" y="11.3" width="3.4" height="1" fill="#40a020" opacity="0.45"/>
<rect x="428" y="0" width="1" height="16" fill="#a0a0a0"/>
<rect x="433" y="0" width="1" height="16" fill="#a0a0a0"/>
<rect x="434" y="0" width="25" height="17" fill="#f8f8f8"/>
<path d="M441.5 1V14.5M439.5 12.5H451" stroke="#505050" stroke-width="1" fill="none"/>
<polygon points="439.5,3 441.5,0.2 443.5,3" fill="#505050"/><polygon points="450.5,10.5 453.3,12.5 450.5,14.5" fill="#505050"/>
<polygon points="446.5,3 446.5,10.5 450.5,6.8" fill="#30c030" stroke="#0a900a" stroke-width="0.9"/>
<rect x="461" y="0" width="1" height="16" fill="#a0a0a0"/>
<rect x="462" y="0" width="25" height="17" fill="#f8f8f8"/>
<path d="M469.5 1V14.5M467.5 12.5H479" stroke="#505050" stroke-width="1" fill="none"/>
<polygon points="467.5,3 469.5,0.2 471.5,3" fill="#505050"/><polygon points="478.5,10.5 481.3,12.5 478.5,14.5" fill="#505050"/>
<rect x="475" y="1" width="1.3" height="9.8" fill="#2070a0"/><path d="M477 6.5H481M477 6.5L479.5 4.3M477 6.5L479.5 8.7" stroke="#d84010" stroke-width="1.3" fill="none"/>
<rect x="490" y="0" width="1" height="16" fill="#a0a0a0"/>
<path d="M501 -1H508L511 2V11H501Z" fill="#fff" stroke="#9a9a9a" stroke-width="0.8"/><path d="M500.5 -1V11.5H509" fill="none" stroke="#8a8a8a"/><path d="M503.5 3.5C503.5 2 505 2.2 505 3.5V8C505 9.5 506.2 9 506.2 8" stroke="#707070" stroke-width="0.9" fill="none"/>
<path d="M508.7 5.200000000000001H512.1V9.100000000000001H516.0V12.5H512.1V16.4H508.7V12.5H504.79999999999995V9.100000000000001H508.7Z" fill="#28d028" stroke="#0a8a0a" stroke-width="1"/>
<path d="M509.59999999999997 6.200000000000001V10.000000000000002H505.79999999999995" stroke="#90f090" stroke-width="0.9" fill="none"/>
<polygon points="522,6 528,6 525,9.2" fill="#000"/>
<circle cx="546" cy="6.5" r="7" fill="#f4f8ff" stroke="#1868c8" stroke-width="2.6"/><path d="M546 2.5V7H549.5" stroke="#404040" stroke-width="1.2" fill="none"/><circle cx="546" cy="6.5" r="5.2" fill="none" stroke="#a8b8c8" stroke-width="0.8" stroke-dasharray="0.8 1.9"/>
<polygon points="561,6 567,6 564,9.2" fill="#000"/>
<rect x="577.5" y="-1" width="15.5" height="14.5" fill="#fff" stroke="#3a78c8" stroke-width="1"/><rect x="578" y="-1" width="14.5" height="2.2" fill="#3a78c8"/><path d="M578 7.5H592.5" stroke="#9ab8e0" stroke-width="0.8"/>
<path d="M579.5 6L582 6L584 4.3L586 5.3L588.5 5L591 4" stroke="#b83018" stroke-width="1.3" fill="none"/><path d="M579.5 11.5L582 11.5L584 10L585.5 11.2L588 9.2L591 11.8" stroke="#209020" stroke-width="1.2" fill="none"/>
<polygon points="600,6 606,6 603,9.2" fill="#000"/>
<rect x="611" y="0" width="1" height="19" fill="#a0a0a0"/><rect x="612" y="0" width="1" height="19" fill="#fdfdfd"/>
<rect x="615" y="1" width="3" height="1" fill="#b4b4b4"/>
<rect x="615" y="3" width="3" height="1" fill="#b4b4b4"/>
<rect x="615" y="5" width="3" height="1" fill="#b4b4b4"/>
<rect x="615" y="7" width="3" height="1" fill="#b4b4b4"/>
<rect x="615" y="9" width="3" height="1" fill="#b4b4b4"/>
<rect x="615" y="11" width="3" height="1" fill="#b4b4b4"/>
<rect x="615" y="13" width="3" height="1" fill="#b4b4b4"/>
<rect x="615" y="15" width="3" height="1" fill="#b4b4b4"/>
<rect x="621" y="0" width="1" height="16" fill="#a0a0a0"/>
<rect x="622" y="0" width="25" height="17" fill="#f8f8f8"/>
<polygon points="629,-1 629,10.2 631.8,8 634,13.6 636.3,12.7 634,7.2 637.6,7.2" fill="#505050"/>
<path d="M654 7.5H669M661.5 0V15" stroke="#505050" stroke-width="1.1"/><rect x="660.5" y="6.5" width="2" height="2" fill="#f0f0f0"/><rect x="661.2" y="7.2" width="0.7" height="0.7" fill="#505050"/>
<rect x="678" y="0" width="1" height="16" fill="#a0a0a0"/>
<rect x="695" y="1" width="1.2" height="13" fill="#505050"/><rect x="718" y="7" width="12.5" height="1.2" fill="#505050"/>
<path d="M746 14L758 2" stroke="#505050" stroke-width="1.2"/>
<path d="M772 9L782.5 1M775 14L786 5.5" stroke="#505050" stroke-width="1"/><path d="M774.5 11.5L777 6.5L778 10L780.5 4.5L781.5 8L784 2.5" stroke="#404040" stroke-width="1" fill="none"/><path d="M783.5 -0.5V3" stroke="#404040" stroke-width="1"/>
<path d="M783.5 11.5V15.5M783.5 11.5H787M783.5 13.5H786.5M783.5 15.5H787" stroke="#404040" stroke-width="1.1" fill="none"/>
<path d="M801 0.5H814.5" stroke="#505050" stroke-width="1.1" stroke-dasharray="1 1"/>
<path d="M801 3.5H814.5" stroke="#505050" stroke-width="1.1" stroke-dasharray="1 1"/>
<path d="M801 7.5H814.5" stroke="#505050" stroke-width="1.1" stroke-dasharray="1 1"/>
<path d="M801 11.5H810" stroke="#505050" stroke-width="1.1" stroke-dasharray="1 1"/>
<path d="M811.5 11.3V16M811.5 11.8H815M811.5 13.7H814.3" stroke="#404040" stroke-width="1.1" fill="none"/>
<path d="M832.2 12.2L835.65 3.2L839.1 12.2M833.5 9H837.8" stroke="#5c5c5c" stroke-width="1.55" fill="none" stroke-linejoin="miter"/>
<g shape-rendering="crispEdges"><path d="M858 1.5H870M858 13.5H870M858.5 1V14M869.5 1V14" stroke="#505050" stroke-width="1" stroke-dasharray="1 1" fill="none"/></g><path d="M860.4 4.8H867.6M864 4.8V11.8" stroke="#505050" stroke-width="1.5" fill="none"/><polygon points="857,0 860,0 860,1 858.5,1 857,1.8" fill="#505050"/>
<polygon points="888.6,0.8 892.2,3.5 888.6,6 885,3.5" fill="#505050"/><polygon points="895.4,8.2 899,10.9 895.4,13.8 891.8,10.9" fill="#505050"/><path d="M887.3 8L889.6 10.4L893.6 4.8" stroke="#505050" stroke-width="1.3" fill="none"/>
<polygon points="906,6 912,6 909,9.2" fill="#000"/>
<rect x="917" y="0" width="1" height="19" fill="#a0a0a0"/><rect x="918" y="0" width="1" height="19" fill="#fdfdfd"/>
<rect x="921" y="1" width="3" height="1" fill="#b4b4b4"/>
<rect x="921" y="3" width="3" height="1" fill="#b4b4b4"/>
<rect x="921" y="5" width="3" height="1" fill="#b4b4b4"/>
<rect x="921" y="7" width="3" height="1" fill="#b4b4b4"/>
<rect x="921" y="9" width="3" height="1" fill="#b4b4b4"/>
<rect x="921" y="11" width="3" height="1" fill="#b4b4b4"/>
<rect x="921" y="13" width="3" height="1" fill="#b4b4b4"/>
<rect x="921" y="15" width="3" height="1" fill="#b4b4b4"/>
<text x="932.5" y="11" font-size="10.2" fill="#4a4a4a" textLength="13" lengthAdjust="spacingAndGlyphs">M1</text>
<text x="960.5" y="11" font-size="10.2" fill="#4a4a4a" textLength="13" lengthAdjust="spacingAndGlyphs">M5</text>
<text x="986.5" y="11" font-size="10.2" fill="#4a4a4a" textLength="18" lengthAdjust="spacingAndGlyphs">M15</text>
<text x="1014.3" y="11" font-size="10.2" fill="#4a4a4a" textLength="18.3" lengthAdjust="spacingAndGlyphs">M30</text>
<text x="1045.5" y="11" font-size="10.2" fill="#4a4a4a" textLength="12" lengthAdjust="spacingAndGlyphs">H1</text>
<rect x="1067" y="0" width="1" height="16" fill="#a0a0a0"/>
<rect x="1068" y="0" width="24" height="17" fill="#f8f8f8"/>
<text x="1072.3" y="11" font-size="10.2" fill="#4a4a4a" textLength="12.7" lengthAdjust="spacingAndGlyphs">H4</text>
<text x="1101.5" y="11" font-size="10.2" fill="#4a4a4a" textLength="12" lengthAdjust="spacingAndGlyphs">D1</text>
<text x="1129" y="11" font-size="10.2" fill="#4a4a4a" textLength="14.5" lengthAdjust="spacingAndGlyphs">W1</text>
<text x="1155.8" y="11" font-size="10.2" fill="#4a4a4a" textLength="14.8" lengthAdjust="spacingAndGlyphs">MN</text>
<rect x="1178" y="0" width="1" height="19" fill="#a0a0a0"/><rect x="1179" y="0" width="1" height="19" fill="#fdfdfd"/>
<circle cx="1648.4" cy="4.6" r="3.7" fill="#fdfdfd" stroke="#2858c8" stroke-width="1.3"/><path d="M1645.6 7.4L1641.3 11.6" stroke="#2858c8" stroke-width="2.4" stroke-linecap="round"/>
<path d="M1666 9.5a5 4.2 0 1 1 5 4.2L1668.2 15.4L1668.6 13.2A5 4.2 0 0 1 1666 9.5Z" fill="#e4e6ee" stroke="#b8bcc8" stroke-width="0.8"/>
<circle cx="1679.5" cy="4" r="8.2" fill="#e03418"/><text x="1679.5" y="8.5" font-size="13" fill="#fff" text-anchor="middle" font-family="Liberation Serif, serif">1</text>
</g>
<g shape-rendering="crispEdges">
<defs>
<linearGradient id="gb" x1="0" y1="0" x2="0" y2="1"><stop offset="0" stop-color="#5252f6"/><stop offset="1" stop-color="#3030d6"/></linearGradient>
<linearGradient id="gp" x1="0" y1="0" x2="0" y2="1"><stop offset="0" stop-color="#3a3ae2"/><stop offset="0.55" stop-color="#1c1ccc"/><stop offset="1" stop-color="#0000aa"/></linearGradient>
<linearGradient id="gg" x1="0" y1="0" x2="0" y2="1"><stop offset="0" stop-color="#f4f4f4"/><stop offset="0.5" stop-color="#e2e2e2"/><stop offset="0.52" stop-color="#d6d6d6"/><stop offset="1" stop-color="#cfcfcf"/></linearGradient>
</defs>
<rect x="0" y="43" width="209" height="57" fill="#fff"/>
<rect x="0" y="43" width="42" height="24" fill="url(#gb)"/><rect x="41" y="43" width="1" height="24" fill="#2020b8"/><rect x="0" y="43" width="42" height="1" fill="#3030c8"/>
<rect x="157" y="43" width="52" height="24" fill="url(#gb)"/><rect x="157" y="43" width="1" height="24" fill="#2020b8"/><rect x="157" y="43" width="52" height="1" fill="#3030c8"/><rect x="208" y="43" width="1" height="57" fill="#1010a0"/>
<rect x="0" y="67" width="99" height="33" fill="url(#gp)"/><rect x="98" y="67" width="1" height="33" fill="#0a0a98"/>
<rect x="101" y="67" width="108" height="33" fill="url(#gp)"/><rect x="208" y="67" width="1" height="33" fill="#0a0a98"/>
<rect x="0" y="66" width="38" height="1" fill="#7474ea"/><rect x="161" y="66" width="44" height="1" fill="#7474ea"/>
<rect x="44.5" y="43.5" width="110" height="21" fill="#fff" stroke="#a6a6a6"/>
<rect x="46" y="45" width="19" height="18" fill="url(#gg)"/><rect x="65" y="44" width="1" height="20" fill="#a6a6a6"/>
<rect x="134" y="45" width="19" height="18" fill="url(#gg)"/><rect x="133" y="44" width="1" height="20" fill="#a6a6a6"/>
<g shape-rendering="geometricPrecision"><polygon points="52,52.3 57.4,52.3 54.7,55.2" fill="#5464c4"/><polygon points="141,55.2 146.4,55.2 143.7,52.3" fill="#5464c4"/></g>
<g shape-rendering="geometricPrecision">
<text x="129.7" y="57.8" font-size="11.6" text-anchor="end" fill="#000" textLength="21.5" lengthAdjust="spacingAndGlyphs">1.00</text>
<text x="2.3" y="59" font-size="12.4" fill="#fff" textLength="25.8" lengthAdjust="spacingAndGlyphs">SELL</text>
<text x="170.5" y="59" font-size="12.4" fill="#fff" textLength="23.5" lengthAdjust="spacingAndGlyphs">BUY</text>
<text x="13.3" y="95" font-size="12.4" font-weight="bold" fill="#fff" textLength="20.8" lengthAdjust="spacingAndGlyphs">155</text>
<text x="38" y="95" font-size="33.6" fill="#fff" textLength="34" lengthAdjust="spacingAndGlyphs" stroke="#2020c8" stroke-width="0.5" paint-order="stroke">18</text>
<text x="77.4" y="79.2" font-size="12.4" font-weight="bold" fill="#fff" textLength="6.8" lengthAdjust="spacingAndGlyphs">8</text>
<text x="123.5" y="95" font-size="12.4" font-weight="bold" fill="#fff" textLength="20.8" lengthAdjust="spacingAndGlyphs">155</text>
<text x="149.3" y="95" font-size="33.6" fill="#fff" textLength="34.5" lengthAdjust="spacingAndGlyphs" stroke="#2020c8" stroke-width="0.5" paint-order="stroke">23</text>
<text x="188.3" y="79.2" font-size="12.4" font-weight="bold" fill="#fff" textLength="6.8" lengthAdjust="spacingAndGlyphs">8</text>
</g></g>
</svg>
</body></html>
